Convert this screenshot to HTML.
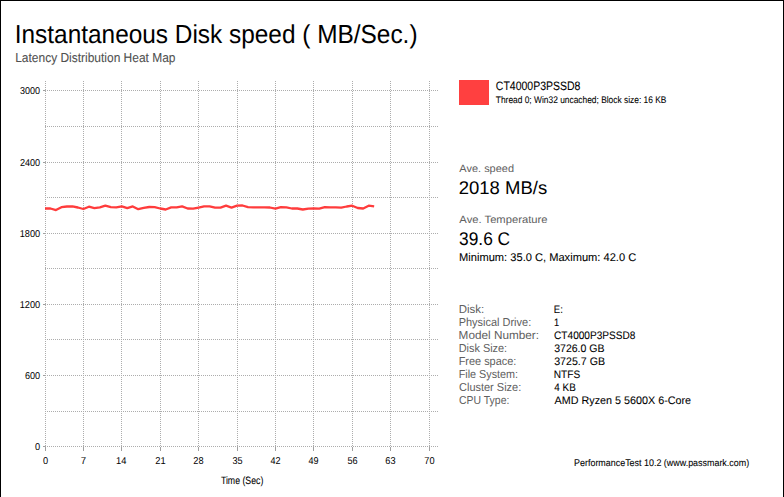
<!DOCTYPE html>
<html><head><meta charset="utf-8"><title>Disk speed</title>
<style>html,body{margin:0;padding:0;background:#fff;width:784px;height:497px;overflow:hidden}</style>
</head><body><svg width="784" height="497" viewBox="0 0 784 497" style="display:block;font-family:'Liberation Sans', sans-serif">
<rect x="0" y="0" width="784" height="497" fill="#fff"/>
<g shape-rendering="crispEdges"><path fill="#adadad" d="M45 81h1v1h-1zM45 83h1v1h-1zM45 85h1v1h-1zM45 87h1v1h-1zM45 89h1v1h-1zM45 91h1v1h-1zM45 93h1v1h-1zM45 95h1v1h-1zM45 97h1v1h-1zM45 99h1v1h-1zM45 101h1v1h-1zM45 103h1v1h-1zM45 105h1v1h-1zM45 107h1v1h-1zM45 109h1v1h-1zM45 111h1v1h-1zM45 113h1v1h-1zM45 115h1v1h-1zM45 117h1v1h-1zM45 119h1v1h-1zM45 121h1v1h-1zM45 123h1v1h-1zM45 125h1v1h-1zM45 127h1v1h-1zM45 129h1v1h-1zM45 131h1v1h-1zM45 133h1v1h-1zM45 135h1v1h-1zM45 137h1v1h-1zM45 139h1v1h-1zM45 141h1v1h-1zM45 143h1v1h-1zM45 145h1v1h-1zM45 147h1v1h-1zM45 149h1v1h-1zM45 151h1v1h-1zM45 153h1v1h-1zM45 155h1v1h-1zM45 157h1v1h-1zM45 159h1v1h-1zM45 161h1v1h-1zM45 163h1v1h-1zM45 165h1v1h-1zM45 167h1v1h-1zM45 169h1v1h-1zM45 171h1v1h-1zM45 173h1v1h-1zM45 175h1v1h-1zM45 177h1v1h-1zM45 179h1v1h-1zM45 181h1v1h-1zM45 183h1v1h-1zM45 185h1v1h-1zM45 187h1v1h-1zM45 189h1v1h-1zM45 191h1v1h-1zM45 193h1v1h-1zM45 195h1v1h-1zM45 197h1v1h-1zM45 199h1v1h-1zM45 201h1v1h-1zM45 203h1v1h-1zM45 205h1v1h-1zM45 207h1v1h-1zM45 209h1v1h-1zM45 211h1v1h-1zM45 213h1v1h-1zM45 215h1v1h-1zM45 217h1v1h-1zM45 219h1v1h-1zM45 221h1v1h-1zM45 223h1v1h-1zM45 225h1v1h-1zM45 227h1v1h-1zM45 229h1v1h-1zM45 231h1v1h-1zM45 233h1v1h-1zM45 235h1v1h-1zM45 237h1v1h-1zM45 239h1v1h-1zM45 241h1v1h-1zM45 243h1v1h-1zM45 245h1v1h-1zM45 247h1v1h-1zM45 249h1v1h-1zM45 251h1v1h-1zM45 253h1v1h-1zM45 255h1v1h-1zM45 257h1v1h-1zM45 259h1v1h-1zM45 261h1v1h-1zM45 263h1v1h-1zM45 265h1v1h-1zM45 267h1v1h-1zM45 269h1v1h-1zM45 271h1v1h-1zM45 273h1v1h-1zM45 275h1v1h-1zM45 277h1v1h-1zM45 279h1v1h-1zM45 281h1v1h-1zM45 283h1v1h-1zM45 285h1v1h-1zM45 287h1v1h-1zM45 289h1v1h-1zM45 291h1v1h-1zM45 293h1v1h-1zM45 295h1v1h-1zM45 297h1v1h-1zM45 299h1v1h-1zM45 301h1v1h-1zM45 303h1v1h-1zM45 305h1v1h-1zM45 307h1v1h-1zM45 309h1v1h-1zM45 311h1v1h-1zM45 313h1v1h-1zM45 315h1v1h-1zM45 317h1v1h-1zM45 319h1v1h-1zM45 321h1v1h-1zM45 323h1v1h-1zM45 325h1v1h-1zM45 327h1v1h-1zM45 329h1v1h-1zM45 331h1v1h-1zM45 333h1v1h-1zM45 335h1v1h-1zM45 337h1v1h-1zM45 339h1v1h-1zM45 341h1v1h-1zM45 343h1v1h-1zM45 345h1v1h-1zM45 347h1v1h-1zM45 349h1v1h-1zM45 351h1v1h-1zM45 353h1v1h-1zM45 355h1v1h-1zM45 357h1v1h-1zM45 359h1v1h-1zM45 361h1v1h-1zM45 363h1v1h-1zM45 365h1v1h-1zM45 367h1v1h-1zM45 369h1v1h-1zM45 371h1v1h-1zM45 373h1v1h-1zM45 375h1v1h-1zM45 377h1v1h-1zM45 379h1v1h-1zM45 381h1v1h-1zM45 383h1v1h-1zM45 385h1v1h-1zM45 387h1v1h-1zM45 389h1v1h-1zM45 391h1v1h-1zM45 393h1v1h-1zM45 395h1v1h-1zM45 397h1v1h-1zM45 399h1v1h-1zM45 401h1v1h-1zM45 403h1v1h-1zM45 405h1v1h-1zM45 407h1v1h-1zM45 409h1v1h-1zM45 411h1v1h-1zM45 413h1v1h-1zM45 415h1v1h-1zM45 417h1v1h-1zM45 419h1v1h-1zM45 421h1v1h-1zM45 423h1v1h-1zM45 425h1v1h-1zM45 427h1v1h-1zM45 429h1v1h-1zM45 431h1v1h-1zM45 433h1v1h-1zM45 435h1v1h-1zM45 437h1v1h-1zM45 439h1v1h-1zM45 441h1v1h-1zM45 443h1v1h-1zM45 445h1v1h-1zM83 81h1v1h-1zM83 83h1v1h-1zM83 85h1v1h-1zM83 87h1v1h-1zM83 89h1v1h-1zM83 91h1v1h-1zM83 93h1v1h-1zM83 95h1v1h-1zM83 97h1v1h-1zM83 99h1v1h-1zM83 101h1v1h-1zM83 103h1v1h-1zM83 105h1v1h-1zM83 107h1v1h-1zM83 109h1v1h-1zM83 111h1v1h-1zM83 113h1v1h-1zM83 115h1v1h-1zM83 117h1v1h-1zM83 119h1v1h-1zM83 121h1v1h-1zM83 123h1v1h-1zM83 125h1v1h-1zM83 127h1v1h-1zM83 129h1v1h-1zM83 131h1v1h-1zM83 133h1v1h-1zM83 135h1v1h-1zM83 137h1v1h-1zM83 139h1v1h-1zM83 141h1v1h-1zM83 143h1v1h-1zM83 145h1v1h-1zM83 147h1v1h-1zM83 149h1v1h-1zM83 151h1v1h-1zM83 153h1v1h-1zM83 155h1v1h-1zM83 157h1v1h-1zM83 159h1v1h-1zM83 161h1v1h-1zM83 163h1v1h-1zM83 165h1v1h-1zM83 167h1v1h-1zM83 169h1v1h-1zM83 171h1v1h-1zM83 173h1v1h-1zM83 175h1v1h-1zM83 177h1v1h-1zM83 179h1v1h-1zM83 181h1v1h-1zM83 183h1v1h-1zM83 185h1v1h-1zM83 187h1v1h-1zM83 189h1v1h-1zM83 191h1v1h-1zM83 193h1v1h-1zM83 195h1v1h-1zM83 197h1v1h-1zM83 199h1v1h-1zM83 201h1v1h-1zM83 203h1v1h-1zM83 205h1v1h-1zM83 207h1v1h-1zM83 209h1v1h-1zM83 211h1v1h-1zM83 213h1v1h-1zM83 215h1v1h-1zM83 217h1v1h-1zM83 219h1v1h-1zM83 221h1v1h-1zM83 223h1v1h-1zM83 225h1v1h-1zM83 227h1v1h-1zM83 229h1v1h-1zM83 231h1v1h-1zM83 233h1v1h-1zM83 235h1v1h-1zM83 237h1v1h-1zM83 239h1v1h-1zM83 241h1v1h-1zM83 243h1v1h-1zM83 245h1v1h-1zM83 247h1v1h-1zM83 249h1v1h-1zM83 251h1v1h-1zM83 253h1v1h-1zM83 255h1v1h-1zM83 257h1v1h-1zM83 259h1v1h-1zM83 261h1v1h-1zM83 263h1v1h-1zM83 265h1v1h-1zM83 267h1v1h-1zM83 269h1v1h-1zM83 271h1v1h-1zM83 273h1v1h-1zM83 275h1v1h-1zM83 277h1v1h-1zM83 279h1v1h-1zM83 281h1v1h-1zM83 283h1v1h-1zM83 285h1v1h-1zM83 287h1v1h-1zM83 289h1v1h-1zM83 291h1v1h-1zM83 293h1v1h-1zM83 295h1v1h-1zM83 297h1v1h-1zM83 299h1v1h-1zM83 301h1v1h-1zM83 303h1v1h-1zM83 305h1v1h-1zM83 307h1v1h-1zM83 309h1v1h-1zM83 311h1v1h-1zM83 313h1v1h-1zM83 315h1v1h-1zM83 317h1v1h-1zM83 319h1v1h-1zM83 321h1v1h-1zM83 323h1v1h-1zM83 325h1v1h-1zM83 327h1v1h-1zM83 329h1v1h-1zM83 331h1v1h-1zM83 333h1v1h-1zM83 335h1v1h-1zM83 337h1v1h-1zM83 339h1v1h-1zM83 341h1v1h-1zM83 343h1v1h-1zM83 345h1v1h-1zM83 347h1v1h-1zM83 349h1v1h-1zM83 351h1v1h-1zM83 353h1v1h-1zM83 355h1v1h-1zM83 357h1v1h-1zM83 359h1v1h-1zM83 361h1v1h-1zM83 363h1v1h-1zM83 365h1v1h-1zM83 367h1v1h-1zM83 369h1v1h-1zM83 371h1v1h-1zM83 373h1v1h-1zM83 375h1v1h-1zM83 377h1v1h-1zM83 379h1v1h-1zM83 381h1v1h-1zM83 383h1v1h-1zM83 385h1v1h-1zM83 387h1v1h-1zM83 389h1v1h-1zM83 391h1v1h-1zM83 393h1v1h-1zM83 395h1v1h-1zM83 397h1v1h-1zM83 399h1v1h-1zM83 401h1v1h-1zM83 403h1v1h-1zM83 405h1v1h-1zM83 407h1v1h-1zM83 409h1v1h-1zM83 411h1v1h-1zM83 413h1v1h-1zM83 415h1v1h-1zM83 417h1v1h-1zM83 419h1v1h-1zM83 421h1v1h-1zM83 423h1v1h-1zM83 425h1v1h-1zM83 427h1v1h-1zM83 429h1v1h-1zM83 431h1v1h-1zM83 433h1v1h-1zM83 435h1v1h-1zM83 437h1v1h-1zM83 439h1v1h-1zM83 441h1v1h-1zM83 443h1v1h-1zM83 445h1v1h-1zM121 81h1v1h-1zM121 83h1v1h-1zM121 85h1v1h-1zM121 87h1v1h-1zM121 89h1v1h-1zM121 91h1v1h-1zM121 93h1v1h-1zM121 95h1v1h-1zM121 97h1v1h-1zM121 99h1v1h-1zM121 101h1v1h-1zM121 103h1v1h-1zM121 105h1v1h-1zM121 107h1v1h-1zM121 109h1v1h-1zM121 111h1v1h-1zM121 113h1v1h-1zM121 115h1v1h-1zM121 117h1v1h-1zM121 119h1v1h-1zM121 121h1v1h-1zM121 123h1v1h-1zM121 125h1v1h-1zM121 127h1v1h-1zM121 129h1v1h-1zM121 131h1v1h-1zM121 133h1v1h-1zM121 135h1v1h-1zM121 137h1v1h-1zM121 139h1v1h-1zM121 141h1v1h-1zM121 143h1v1h-1zM121 145h1v1h-1zM121 147h1v1h-1zM121 149h1v1h-1zM121 151h1v1h-1zM121 153h1v1h-1zM121 155h1v1h-1zM121 157h1v1h-1zM121 159h1v1h-1zM121 161h1v1h-1zM121 163h1v1h-1zM121 165h1v1h-1zM121 167h1v1h-1zM121 169h1v1h-1zM121 171h1v1h-1zM121 173h1v1h-1zM121 175h1v1h-1zM121 177h1v1h-1zM121 179h1v1h-1zM121 181h1v1h-1zM121 183h1v1h-1zM121 185h1v1h-1zM121 187h1v1h-1zM121 189h1v1h-1zM121 191h1v1h-1zM121 193h1v1h-1zM121 195h1v1h-1zM121 197h1v1h-1zM121 199h1v1h-1zM121 201h1v1h-1zM121 203h1v1h-1zM121 205h1v1h-1zM121 207h1v1h-1zM121 209h1v1h-1zM121 211h1v1h-1zM121 213h1v1h-1zM121 215h1v1h-1zM121 217h1v1h-1zM121 219h1v1h-1zM121 221h1v1h-1zM121 223h1v1h-1zM121 225h1v1h-1zM121 227h1v1h-1zM121 229h1v1h-1zM121 231h1v1h-1zM121 233h1v1h-1zM121 235h1v1h-1zM121 237h1v1h-1zM121 239h1v1h-1zM121 241h1v1h-1zM121 243h1v1h-1zM121 245h1v1h-1zM121 247h1v1h-1zM121 249h1v1h-1zM121 251h1v1h-1zM121 253h1v1h-1zM121 255h1v1h-1zM121 257h1v1h-1zM121 259h1v1h-1zM121 261h1v1h-1zM121 263h1v1h-1zM121 265h1v1h-1zM121 267h1v1h-1zM121 269h1v1h-1zM121 271h1v1h-1zM121 273h1v1h-1zM121 275h1v1h-1zM121 277h1v1h-1zM121 279h1v1h-1zM121 281h1v1h-1zM121 283h1v1h-1zM121 285h1v1h-1zM121 287h1v1h-1zM121 289h1v1h-1zM121 291h1v1h-1zM121 293h1v1h-1zM121 295h1v1h-1zM121 297h1v1h-1zM121 299h1v1h-1zM121 301h1v1h-1zM121 303h1v1h-1zM121 305h1v1h-1zM121 307h1v1h-1zM121 309h1v1h-1zM121 311h1v1h-1zM121 313h1v1h-1zM121 315h1v1h-1zM121 317h1v1h-1zM121 319h1v1h-1zM121 321h1v1h-1zM121 323h1v1h-1zM121 325h1v1h-1zM121 327h1v1h-1zM121 329h1v1h-1zM121 331h1v1h-1zM121 333h1v1h-1zM121 335h1v1h-1zM121 337h1v1h-1zM121 339h1v1h-1zM121 341h1v1h-1zM121 343h1v1h-1zM121 345h1v1h-1zM121 347h1v1h-1zM121 349h1v1h-1zM121 351h1v1h-1zM121 353h1v1h-1zM121 355h1v1h-1zM121 357h1v1h-1zM121 359h1v1h-1zM121 361h1v1h-1zM121 363h1v1h-1zM121 365h1v1h-1zM121 367h1v1h-1zM121 369h1v1h-1zM121 371h1v1h-1zM121 373h1v1h-1zM121 375h1v1h-1zM121 377h1v1h-1zM121 379h1v1h-1zM121 381h1v1h-1zM121 383h1v1h-1zM121 385h1v1h-1zM121 387h1v1h-1zM121 389h1v1h-1zM121 391h1v1h-1zM121 393h1v1h-1zM121 395h1v1h-1zM121 397h1v1h-1zM121 399h1v1h-1zM121 401h1v1h-1zM121 403h1v1h-1zM121 405h1v1h-1zM121 407h1v1h-1zM121 409h1v1h-1zM121 411h1v1h-1zM121 413h1v1h-1zM121 415h1v1h-1zM121 417h1v1h-1zM121 419h1v1h-1zM121 421h1v1h-1zM121 423h1v1h-1zM121 425h1v1h-1zM121 427h1v1h-1zM121 429h1v1h-1zM121 431h1v1h-1zM121 433h1v1h-1zM121 435h1v1h-1zM121 437h1v1h-1zM121 439h1v1h-1zM121 441h1v1h-1zM121 443h1v1h-1zM121 445h1v1h-1zM160 81h1v1h-1zM160 83h1v1h-1zM160 85h1v1h-1zM160 87h1v1h-1zM160 89h1v1h-1zM160 91h1v1h-1zM160 93h1v1h-1zM160 95h1v1h-1zM160 97h1v1h-1zM160 99h1v1h-1zM160 101h1v1h-1zM160 103h1v1h-1zM160 105h1v1h-1zM160 107h1v1h-1zM160 109h1v1h-1zM160 111h1v1h-1zM160 113h1v1h-1zM160 115h1v1h-1zM160 117h1v1h-1zM160 119h1v1h-1zM160 121h1v1h-1zM160 123h1v1h-1zM160 125h1v1h-1zM160 127h1v1h-1zM160 129h1v1h-1zM160 131h1v1h-1zM160 133h1v1h-1zM160 135h1v1h-1zM160 137h1v1h-1zM160 139h1v1h-1zM160 141h1v1h-1zM160 143h1v1h-1zM160 145h1v1h-1zM160 147h1v1h-1zM160 149h1v1h-1zM160 151h1v1h-1zM160 153h1v1h-1zM160 155h1v1h-1zM160 157h1v1h-1zM160 159h1v1h-1zM160 161h1v1h-1zM160 163h1v1h-1zM160 165h1v1h-1zM160 167h1v1h-1zM160 169h1v1h-1zM160 171h1v1h-1zM160 173h1v1h-1zM160 175h1v1h-1zM160 177h1v1h-1zM160 179h1v1h-1zM160 181h1v1h-1zM160 183h1v1h-1zM160 185h1v1h-1zM160 187h1v1h-1zM160 189h1v1h-1zM160 191h1v1h-1zM160 193h1v1h-1zM160 195h1v1h-1zM160 197h1v1h-1zM160 199h1v1h-1zM160 201h1v1h-1zM160 203h1v1h-1zM160 205h1v1h-1zM160 207h1v1h-1zM160 209h1v1h-1zM160 211h1v1h-1zM160 213h1v1h-1zM160 215h1v1h-1zM160 217h1v1h-1zM160 219h1v1h-1zM160 221h1v1h-1zM160 223h1v1h-1zM160 225h1v1h-1zM160 227h1v1h-1zM160 229h1v1h-1zM160 231h1v1h-1zM160 233h1v1h-1zM160 235h1v1h-1zM160 237h1v1h-1zM160 239h1v1h-1zM160 241h1v1h-1zM160 243h1v1h-1zM160 245h1v1h-1zM160 247h1v1h-1zM160 249h1v1h-1zM160 251h1v1h-1zM160 253h1v1h-1zM160 255h1v1h-1zM160 257h1v1h-1zM160 259h1v1h-1zM160 261h1v1h-1zM160 263h1v1h-1zM160 265h1v1h-1zM160 267h1v1h-1zM160 269h1v1h-1zM160 271h1v1h-1zM160 273h1v1h-1zM160 275h1v1h-1zM160 277h1v1h-1zM160 279h1v1h-1zM160 281h1v1h-1zM160 283h1v1h-1zM160 285h1v1h-1zM160 287h1v1h-1zM160 289h1v1h-1zM160 291h1v1h-1zM160 293h1v1h-1zM160 295h1v1h-1zM160 297h1v1h-1zM160 299h1v1h-1zM160 301h1v1h-1zM160 303h1v1h-1zM160 305h1v1h-1zM160 307h1v1h-1zM160 309h1v1h-1zM160 311h1v1h-1zM160 313h1v1h-1zM160 315h1v1h-1zM160 317h1v1h-1zM160 319h1v1h-1zM160 321h1v1h-1zM160 323h1v1h-1zM160 325h1v1h-1zM160 327h1v1h-1zM160 329h1v1h-1zM160 331h1v1h-1zM160 333h1v1h-1zM160 335h1v1h-1zM160 337h1v1h-1zM160 339h1v1h-1zM160 341h1v1h-1zM160 343h1v1h-1zM160 345h1v1h-1zM160 347h1v1h-1zM160 349h1v1h-1zM160 351h1v1h-1zM160 353h1v1h-1zM160 355h1v1h-1zM160 357h1v1h-1zM160 359h1v1h-1zM160 361h1v1h-1zM160 363h1v1h-1zM160 365h1v1h-1zM160 367h1v1h-1zM160 369h1v1h-1zM160 371h1v1h-1zM160 373h1v1h-1zM160 375h1v1h-1zM160 377h1v1h-1zM160 379h1v1h-1zM160 381h1v1h-1zM160 383h1v1h-1zM160 385h1v1h-1zM160 387h1v1h-1zM160 389h1v1h-1zM160 391h1v1h-1zM160 393h1v1h-1zM160 395h1v1h-1zM160 397h1v1h-1zM160 399h1v1h-1zM160 401h1v1h-1zM160 403h1v1h-1zM160 405h1v1h-1zM160 407h1v1h-1zM160 409h1v1h-1zM160 411h1v1h-1zM160 413h1v1h-1zM160 415h1v1h-1zM160 417h1v1h-1zM160 419h1v1h-1zM160 421h1v1h-1zM160 423h1v1h-1zM160 425h1v1h-1zM160 427h1v1h-1zM160 429h1v1h-1zM160 431h1v1h-1zM160 433h1v1h-1zM160 435h1v1h-1zM160 437h1v1h-1zM160 439h1v1h-1zM160 441h1v1h-1zM160 443h1v1h-1zM160 445h1v1h-1zM198 81h1v1h-1zM198 83h1v1h-1zM198 85h1v1h-1zM198 87h1v1h-1zM198 89h1v1h-1zM198 91h1v1h-1zM198 93h1v1h-1zM198 95h1v1h-1zM198 97h1v1h-1zM198 99h1v1h-1zM198 101h1v1h-1zM198 103h1v1h-1zM198 105h1v1h-1zM198 107h1v1h-1zM198 109h1v1h-1zM198 111h1v1h-1zM198 113h1v1h-1zM198 115h1v1h-1zM198 117h1v1h-1zM198 119h1v1h-1zM198 121h1v1h-1zM198 123h1v1h-1zM198 125h1v1h-1zM198 127h1v1h-1zM198 129h1v1h-1zM198 131h1v1h-1zM198 133h1v1h-1zM198 135h1v1h-1zM198 137h1v1h-1zM198 139h1v1h-1zM198 141h1v1h-1zM198 143h1v1h-1zM198 145h1v1h-1zM198 147h1v1h-1zM198 149h1v1h-1zM198 151h1v1h-1zM198 153h1v1h-1zM198 155h1v1h-1zM198 157h1v1h-1zM198 159h1v1h-1zM198 161h1v1h-1zM198 163h1v1h-1zM198 165h1v1h-1zM198 167h1v1h-1zM198 169h1v1h-1zM198 171h1v1h-1zM198 173h1v1h-1zM198 175h1v1h-1zM198 177h1v1h-1zM198 179h1v1h-1zM198 181h1v1h-1zM198 183h1v1h-1zM198 185h1v1h-1zM198 187h1v1h-1zM198 189h1v1h-1zM198 191h1v1h-1zM198 193h1v1h-1zM198 195h1v1h-1zM198 197h1v1h-1zM198 199h1v1h-1zM198 201h1v1h-1zM198 203h1v1h-1zM198 205h1v1h-1zM198 207h1v1h-1zM198 209h1v1h-1zM198 211h1v1h-1zM198 213h1v1h-1zM198 215h1v1h-1zM198 217h1v1h-1zM198 219h1v1h-1zM198 221h1v1h-1zM198 223h1v1h-1zM198 225h1v1h-1zM198 227h1v1h-1zM198 229h1v1h-1zM198 231h1v1h-1zM198 233h1v1h-1zM198 235h1v1h-1zM198 237h1v1h-1zM198 239h1v1h-1zM198 241h1v1h-1zM198 243h1v1h-1zM198 245h1v1h-1zM198 247h1v1h-1zM198 249h1v1h-1zM198 251h1v1h-1zM198 253h1v1h-1zM198 255h1v1h-1zM198 257h1v1h-1zM198 259h1v1h-1zM198 261h1v1h-1zM198 263h1v1h-1zM198 265h1v1h-1zM198 267h1v1h-1zM198 269h1v1h-1zM198 271h1v1h-1zM198 273h1v1h-1zM198 275h1v1h-1zM198 277h1v1h-1zM198 279h1v1h-1zM198 281h1v1h-1zM198 283h1v1h-1zM198 285h1v1h-1zM198 287h1v1h-1zM198 289h1v1h-1zM198 291h1v1h-1zM198 293h1v1h-1zM198 295h1v1h-1zM198 297h1v1h-1zM198 299h1v1h-1zM198 301h1v1h-1zM198 303h1v1h-1zM198 305h1v1h-1zM198 307h1v1h-1zM198 309h1v1h-1zM198 311h1v1h-1zM198 313h1v1h-1zM198 315h1v1h-1zM198 317h1v1h-1zM198 319h1v1h-1zM198 321h1v1h-1zM198 323h1v1h-1zM198 325h1v1h-1zM198 327h1v1h-1zM198 329h1v1h-1zM198 331h1v1h-1zM198 333h1v1h-1zM198 335h1v1h-1zM198 337h1v1h-1zM198 339h1v1h-1zM198 341h1v1h-1zM198 343h1v1h-1zM198 345h1v1h-1zM198 347h1v1h-1zM198 349h1v1h-1zM198 351h1v1h-1zM198 353h1v1h-1zM198 355h1v1h-1zM198 357h1v1h-1zM198 359h1v1h-1zM198 361h1v1h-1zM198 363h1v1h-1zM198 365h1v1h-1zM198 367h1v1h-1zM198 369h1v1h-1zM198 371h1v1h-1zM198 373h1v1h-1zM198 375h1v1h-1zM198 377h1v1h-1zM198 379h1v1h-1zM198 381h1v1h-1zM198 383h1v1h-1zM198 385h1v1h-1zM198 387h1v1h-1zM198 389h1v1h-1zM198 391h1v1h-1zM198 393h1v1h-1zM198 395h1v1h-1zM198 397h1v1h-1zM198 399h1v1h-1zM198 401h1v1h-1zM198 403h1v1h-1zM198 405h1v1h-1zM198 407h1v1h-1zM198 409h1v1h-1zM198 411h1v1h-1zM198 413h1v1h-1zM198 415h1v1h-1zM198 417h1v1h-1zM198 419h1v1h-1zM198 421h1v1h-1zM198 423h1v1h-1zM198 425h1v1h-1zM198 427h1v1h-1zM198 429h1v1h-1zM198 431h1v1h-1zM198 433h1v1h-1zM198 435h1v1h-1zM198 437h1v1h-1zM198 439h1v1h-1zM198 441h1v1h-1zM198 443h1v1h-1zM198 445h1v1h-1zM237 81h1v1h-1zM237 83h1v1h-1zM237 85h1v1h-1zM237 87h1v1h-1zM237 89h1v1h-1zM237 91h1v1h-1zM237 93h1v1h-1zM237 95h1v1h-1zM237 97h1v1h-1zM237 99h1v1h-1zM237 101h1v1h-1zM237 103h1v1h-1zM237 105h1v1h-1zM237 107h1v1h-1zM237 109h1v1h-1zM237 111h1v1h-1zM237 113h1v1h-1zM237 115h1v1h-1zM237 117h1v1h-1zM237 119h1v1h-1zM237 121h1v1h-1zM237 123h1v1h-1zM237 125h1v1h-1zM237 127h1v1h-1zM237 129h1v1h-1zM237 131h1v1h-1zM237 133h1v1h-1zM237 135h1v1h-1zM237 137h1v1h-1zM237 139h1v1h-1zM237 141h1v1h-1zM237 143h1v1h-1zM237 145h1v1h-1zM237 147h1v1h-1zM237 149h1v1h-1zM237 151h1v1h-1zM237 153h1v1h-1zM237 155h1v1h-1zM237 157h1v1h-1zM237 159h1v1h-1zM237 161h1v1h-1zM237 163h1v1h-1zM237 165h1v1h-1zM237 167h1v1h-1zM237 169h1v1h-1zM237 171h1v1h-1zM237 173h1v1h-1zM237 175h1v1h-1zM237 177h1v1h-1zM237 179h1v1h-1zM237 181h1v1h-1zM237 183h1v1h-1zM237 185h1v1h-1zM237 187h1v1h-1zM237 189h1v1h-1zM237 191h1v1h-1zM237 193h1v1h-1zM237 195h1v1h-1zM237 197h1v1h-1zM237 199h1v1h-1zM237 201h1v1h-1zM237 203h1v1h-1zM237 205h1v1h-1zM237 207h1v1h-1zM237 209h1v1h-1zM237 211h1v1h-1zM237 213h1v1h-1zM237 215h1v1h-1zM237 217h1v1h-1zM237 219h1v1h-1zM237 221h1v1h-1zM237 223h1v1h-1zM237 225h1v1h-1zM237 227h1v1h-1zM237 229h1v1h-1zM237 231h1v1h-1zM237 233h1v1h-1zM237 235h1v1h-1zM237 237h1v1h-1zM237 239h1v1h-1zM237 241h1v1h-1zM237 243h1v1h-1zM237 245h1v1h-1zM237 247h1v1h-1zM237 249h1v1h-1zM237 251h1v1h-1zM237 253h1v1h-1zM237 255h1v1h-1zM237 257h1v1h-1zM237 259h1v1h-1zM237 261h1v1h-1zM237 263h1v1h-1zM237 265h1v1h-1zM237 267h1v1h-1zM237 269h1v1h-1zM237 271h1v1h-1zM237 273h1v1h-1zM237 275h1v1h-1zM237 277h1v1h-1zM237 279h1v1h-1zM237 281h1v1h-1zM237 283h1v1h-1zM237 285h1v1h-1zM237 287h1v1h-1zM237 289h1v1h-1zM237 291h1v1h-1zM237 293h1v1h-1zM237 295h1v1h-1zM237 297h1v1h-1zM237 299h1v1h-1zM237 301h1v1h-1zM237 303h1v1h-1zM237 305h1v1h-1zM237 307h1v1h-1zM237 309h1v1h-1zM237 311h1v1h-1zM237 313h1v1h-1zM237 315h1v1h-1zM237 317h1v1h-1zM237 319h1v1h-1zM237 321h1v1h-1zM237 323h1v1h-1zM237 325h1v1h-1zM237 327h1v1h-1zM237 329h1v1h-1zM237 331h1v1h-1zM237 333h1v1h-1zM237 335h1v1h-1zM237 337h1v1h-1zM237 339h1v1h-1zM237 341h1v1h-1zM237 343h1v1h-1zM237 345h1v1h-1zM237 347h1v1h-1zM237 349h1v1h-1zM237 351h1v1h-1zM237 353h1v1h-1zM237 355h1v1h-1zM237 357h1v1h-1zM237 359h1v1h-1zM237 361h1v1h-1zM237 363h1v1h-1zM237 365h1v1h-1zM237 367h1v1h-1zM237 369h1v1h-1zM237 371h1v1h-1zM237 373h1v1h-1zM237 375h1v1h-1zM237 377h1v1h-1zM237 379h1v1h-1zM237 381h1v1h-1zM237 383h1v1h-1zM237 385h1v1h-1zM237 387h1v1h-1zM237 389h1v1h-1zM237 391h1v1h-1zM237 393h1v1h-1zM237 395h1v1h-1zM237 397h1v1h-1zM237 399h1v1h-1zM237 401h1v1h-1zM237 403h1v1h-1zM237 405h1v1h-1zM237 407h1v1h-1zM237 409h1v1h-1zM237 411h1v1h-1zM237 413h1v1h-1zM237 415h1v1h-1zM237 417h1v1h-1zM237 419h1v1h-1zM237 421h1v1h-1zM237 423h1v1h-1zM237 425h1v1h-1zM237 427h1v1h-1zM237 429h1v1h-1zM237 431h1v1h-1zM237 433h1v1h-1zM237 435h1v1h-1zM237 437h1v1h-1zM237 439h1v1h-1zM237 441h1v1h-1zM237 443h1v1h-1zM237 445h1v1h-1zM275 81h1v1h-1zM275 83h1v1h-1zM275 85h1v1h-1zM275 87h1v1h-1zM275 89h1v1h-1zM275 91h1v1h-1zM275 93h1v1h-1zM275 95h1v1h-1zM275 97h1v1h-1zM275 99h1v1h-1zM275 101h1v1h-1zM275 103h1v1h-1zM275 105h1v1h-1zM275 107h1v1h-1zM275 109h1v1h-1zM275 111h1v1h-1zM275 113h1v1h-1zM275 115h1v1h-1zM275 117h1v1h-1zM275 119h1v1h-1zM275 121h1v1h-1zM275 123h1v1h-1zM275 125h1v1h-1zM275 127h1v1h-1zM275 129h1v1h-1zM275 131h1v1h-1zM275 133h1v1h-1zM275 135h1v1h-1zM275 137h1v1h-1zM275 139h1v1h-1zM275 141h1v1h-1zM275 143h1v1h-1zM275 145h1v1h-1zM275 147h1v1h-1zM275 149h1v1h-1zM275 151h1v1h-1zM275 153h1v1h-1zM275 155h1v1h-1zM275 157h1v1h-1zM275 159h1v1h-1zM275 161h1v1h-1zM275 163h1v1h-1zM275 165h1v1h-1zM275 167h1v1h-1zM275 169h1v1h-1zM275 171h1v1h-1zM275 173h1v1h-1zM275 175h1v1h-1zM275 177h1v1h-1zM275 179h1v1h-1zM275 181h1v1h-1zM275 183h1v1h-1zM275 185h1v1h-1zM275 187h1v1h-1zM275 189h1v1h-1zM275 191h1v1h-1zM275 193h1v1h-1zM275 195h1v1h-1zM275 197h1v1h-1zM275 199h1v1h-1zM275 201h1v1h-1zM275 203h1v1h-1zM275 205h1v1h-1zM275 207h1v1h-1zM275 209h1v1h-1zM275 211h1v1h-1zM275 213h1v1h-1zM275 215h1v1h-1zM275 217h1v1h-1zM275 219h1v1h-1zM275 221h1v1h-1zM275 223h1v1h-1zM275 225h1v1h-1zM275 227h1v1h-1zM275 229h1v1h-1zM275 231h1v1h-1zM275 233h1v1h-1zM275 235h1v1h-1zM275 237h1v1h-1zM275 239h1v1h-1zM275 241h1v1h-1zM275 243h1v1h-1zM275 245h1v1h-1zM275 247h1v1h-1zM275 249h1v1h-1zM275 251h1v1h-1zM275 253h1v1h-1zM275 255h1v1h-1zM275 257h1v1h-1zM275 259h1v1h-1zM275 261h1v1h-1zM275 263h1v1h-1zM275 265h1v1h-1zM275 267h1v1h-1zM275 269h1v1h-1zM275 271h1v1h-1zM275 273h1v1h-1zM275 275h1v1h-1zM275 277h1v1h-1zM275 279h1v1h-1zM275 281h1v1h-1zM275 283h1v1h-1zM275 285h1v1h-1zM275 287h1v1h-1zM275 289h1v1h-1zM275 291h1v1h-1zM275 293h1v1h-1zM275 295h1v1h-1zM275 297h1v1h-1zM275 299h1v1h-1zM275 301h1v1h-1zM275 303h1v1h-1zM275 305h1v1h-1zM275 307h1v1h-1zM275 309h1v1h-1zM275 311h1v1h-1zM275 313h1v1h-1zM275 315h1v1h-1zM275 317h1v1h-1zM275 319h1v1h-1zM275 321h1v1h-1zM275 323h1v1h-1zM275 325h1v1h-1zM275 327h1v1h-1zM275 329h1v1h-1zM275 331h1v1h-1zM275 333h1v1h-1zM275 335h1v1h-1zM275 337h1v1h-1zM275 339h1v1h-1zM275 341h1v1h-1zM275 343h1v1h-1zM275 345h1v1h-1zM275 347h1v1h-1zM275 349h1v1h-1zM275 351h1v1h-1zM275 353h1v1h-1zM275 355h1v1h-1zM275 357h1v1h-1zM275 359h1v1h-1zM275 361h1v1h-1zM275 363h1v1h-1zM275 365h1v1h-1zM275 367h1v1h-1zM275 369h1v1h-1zM275 371h1v1h-1zM275 373h1v1h-1zM275 375h1v1h-1zM275 377h1v1h-1zM275 379h1v1h-1zM275 381h1v1h-1zM275 383h1v1h-1zM275 385h1v1h-1zM275 387h1v1h-1zM275 389h1v1h-1zM275 391h1v1h-1zM275 393h1v1h-1zM275 395h1v1h-1zM275 397h1v1h-1zM275 399h1v1h-1zM275 401h1v1h-1zM275 403h1v1h-1zM275 405h1v1h-1zM275 407h1v1h-1zM275 409h1v1h-1zM275 411h1v1h-1zM275 413h1v1h-1zM275 415h1v1h-1zM275 417h1v1h-1zM275 419h1v1h-1zM275 421h1v1h-1zM275 423h1v1h-1zM275 425h1v1h-1zM275 427h1v1h-1zM275 429h1v1h-1zM275 431h1v1h-1zM275 433h1v1h-1zM275 435h1v1h-1zM275 437h1v1h-1zM275 439h1v1h-1zM275 441h1v1h-1zM275 443h1v1h-1zM275 445h1v1h-1zM313 81h1v1h-1zM313 83h1v1h-1zM313 85h1v1h-1zM313 87h1v1h-1zM313 89h1v1h-1zM313 91h1v1h-1zM313 93h1v1h-1zM313 95h1v1h-1zM313 97h1v1h-1zM313 99h1v1h-1zM313 101h1v1h-1zM313 103h1v1h-1zM313 105h1v1h-1zM313 107h1v1h-1zM313 109h1v1h-1zM313 111h1v1h-1zM313 113h1v1h-1zM313 115h1v1h-1zM313 117h1v1h-1zM313 119h1v1h-1zM313 121h1v1h-1zM313 123h1v1h-1zM313 125h1v1h-1zM313 127h1v1h-1zM313 129h1v1h-1zM313 131h1v1h-1zM313 133h1v1h-1zM313 135h1v1h-1zM313 137h1v1h-1zM313 139h1v1h-1zM313 141h1v1h-1zM313 143h1v1h-1zM313 145h1v1h-1zM313 147h1v1h-1zM313 149h1v1h-1zM313 151h1v1h-1zM313 153h1v1h-1zM313 155h1v1h-1zM313 157h1v1h-1zM313 159h1v1h-1zM313 161h1v1h-1zM313 163h1v1h-1zM313 165h1v1h-1zM313 167h1v1h-1zM313 169h1v1h-1zM313 171h1v1h-1zM313 173h1v1h-1zM313 175h1v1h-1zM313 177h1v1h-1zM313 179h1v1h-1zM313 181h1v1h-1zM313 183h1v1h-1zM313 185h1v1h-1zM313 187h1v1h-1zM313 189h1v1h-1zM313 191h1v1h-1zM313 193h1v1h-1zM313 195h1v1h-1zM313 197h1v1h-1zM313 199h1v1h-1zM313 201h1v1h-1zM313 203h1v1h-1zM313 205h1v1h-1zM313 207h1v1h-1zM313 209h1v1h-1zM313 211h1v1h-1zM313 213h1v1h-1zM313 215h1v1h-1zM313 217h1v1h-1zM313 219h1v1h-1zM313 221h1v1h-1zM313 223h1v1h-1zM313 225h1v1h-1zM313 227h1v1h-1zM313 229h1v1h-1zM313 231h1v1h-1zM313 233h1v1h-1zM313 235h1v1h-1zM313 237h1v1h-1zM313 239h1v1h-1zM313 241h1v1h-1zM313 243h1v1h-1zM313 245h1v1h-1zM313 247h1v1h-1zM313 249h1v1h-1zM313 251h1v1h-1zM313 253h1v1h-1zM313 255h1v1h-1zM313 257h1v1h-1zM313 259h1v1h-1zM313 261h1v1h-1zM313 263h1v1h-1zM313 265h1v1h-1zM313 267h1v1h-1zM313 269h1v1h-1zM313 271h1v1h-1zM313 273h1v1h-1zM313 275h1v1h-1zM313 277h1v1h-1zM313 279h1v1h-1zM313 281h1v1h-1zM313 283h1v1h-1zM313 285h1v1h-1zM313 287h1v1h-1zM313 289h1v1h-1zM313 291h1v1h-1zM313 293h1v1h-1zM313 295h1v1h-1zM313 297h1v1h-1zM313 299h1v1h-1zM313 301h1v1h-1zM313 303h1v1h-1zM313 305h1v1h-1zM313 307h1v1h-1zM313 309h1v1h-1zM313 311h1v1h-1zM313 313h1v1h-1zM313 315h1v1h-1zM313 317h1v1h-1zM313 319h1v1h-1zM313 321h1v1h-1zM313 323h1v1h-1zM313 325h1v1h-1zM313 327h1v1h-1zM313 329h1v1h-1zM313 331h1v1h-1zM313 333h1v1h-1zM313 335h1v1h-1zM313 337h1v1h-1zM313 339h1v1h-1zM313 341h1v1h-1zM313 343h1v1h-1zM313 345h1v1h-1zM313 347h1v1h-1zM313 349h1v1h-1zM313 351h1v1h-1zM313 353h1v1h-1zM313 355h1v1h-1zM313 357h1v1h-1zM313 359h1v1h-1zM313 361h1v1h-1zM313 363h1v1h-1zM313 365h1v1h-1zM313 367h1v1h-1zM313 369h1v1h-1zM313 371h1v1h-1zM313 373h1v1h-1zM313 375h1v1h-1zM313 377h1v1h-1zM313 379h1v1h-1zM313 381h1v1h-1zM313 383h1v1h-1zM313 385h1v1h-1zM313 387h1v1h-1zM313 389h1v1h-1zM313 391h1v1h-1zM313 393h1v1h-1zM313 395h1v1h-1zM313 397h1v1h-1zM313 399h1v1h-1zM313 401h1v1h-1zM313 403h1v1h-1zM313 405h1v1h-1zM313 407h1v1h-1zM313 409h1v1h-1zM313 411h1v1h-1zM313 413h1v1h-1zM313 415h1v1h-1zM313 417h1v1h-1zM313 419h1v1h-1zM313 421h1v1h-1zM313 423h1v1h-1zM313 425h1v1h-1zM313 427h1v1h-1zM313 429h1v1h-1zM313 431h1v1h-1zM313 433h1v1h-1zM313 435h1v1h-1zM313 437h1v1h-1zM313 439h1v1h-1zM313 441h1v1h-1zM313 443h1v1h-1zM313 445h1v1h-1zM352 81h1v1h-1zM352 83h1v1h-1zM352 85h1v1h-1zM352 87h1v1h-1zM352 89h1v1h-1zM352 91h1v1h-1zM352 93h1v1h-1zM352 95h1v1h-1zM352 97h1v1h-1zM352 99h1v1h-1zM352 101h1v1h-1zM352 103h1v1h-1zM352 105h1v1h-1zM352 107h1v1h-1zM352 109h1v1h-1zM352 111h1v1h-1zM352 113h1v1h-1zM352 115h1v1h-1zM352 117h1v1h-1zM352 119h1v1h-1zM352 121h1v1h-1zM352 123h1v1h-1zM352 125h1v1h-1zM352 127h1v1h-1zM352 129h1v1h-1zM352 131h1v1h-1zM352 133h1v1h-1zM352 135h1v1h-1zM352 137h1v1h-1zM352 139h1v1h-1zM352 141h1v1h-1zM352 143h1v1h-1zM352 145h1v1h-1zM352 147h1v1h-1zM352 149h1v1h-1zM352 151h1v1h-1zM352 153h1v1h-1zM352 155h1v1h-1zM352 157h1v1h-1zM352 159h1v1h-1zM352 161h1v1h-1zM352 163h1v1h-1zM352 165h1v1h-1zM352 167h1v1h-1zM352 169h1v1h-1zM352 171h1v1h-1zM352 173h1v1h-1zM352 175h1v1h-1zM352 177h1v1h-1zM352 179h1v1h-1zM352 181h1v1h-1zM352 183h1v1h-1zM352 185h1v1h-1zM352 187h1v1h-1zM352 189h1v1h-1zM352 191h1v1h-1zM352 193h1v1h-1zM352 195h1v1h-1zM352 197h1v1h-1zM352 199h1v1h-1zM352 201h1v1h-1zM352 203h1v1h-1zM352 205h1v1h-1zM352 207h1v1h-1zM352 209h1v1h-1zM352 211h1v1h-1zM352 213h1v1h-1zM352 215h1v1h-1zM352 217h1v1h-1zM352 219h1v1h-1zM352 221h1v1h-1zM352 223h1v1h-1zM352 225h1v1h-1zM352 227h1v1h-1zM352 229h1v1h-1zM352 231h1v1h-1zM352 233h1v1h-1zM352 235h1v1h-1zM352 237h1v1h-1zM352 239h1v1h-1zM352 241h1v1h-1zM352 243h1v1h-1zM352 245h1v1h-1zM352 247h1v1h-1zM352 249h1v1h-1zM352 251h1v1h-1zM352 253h1v1h-1zM352 255h1v1h-1zM352 257h1v1h-1zM352 259h1v1h-1zM352 261h1v1h-1zM352 263h1v1h-1zM352 265h1v1h-1zM352 267h1v1h-1zM352 269h1v1h-1zM352 271h1v1h-1zM352 273h1v1h-1zM352 275h1v1h-1zM352 277h1v1h-1zM352 279h1v1h-1zM352 281h1v1h-1zM352 283h1v1h-1zM352 285h1v1h-1zM352 287h1v1h-1zM352 289h1v1h-1zM352 291h1v1h-1zM352 293h1v1h-1zM352 295h1v1h-1zM352 297h1v1h-1zM352 299h1v1h-1zM352 301h1v1h-1zM352 303h1v1h-1zM352 305h1v1h-1zM352 307h1v1h-1zM352 309h1v1h-1zM352 311h1v1h-1zM352 313h1v1h-1zM352 315h1v1h-1zM352 317h1v1h-1zM352 319h1v1h-1zM352 321h1v1h-1zM352 323h1v1h-1zM352 325h1v1h-1zM352 327h1v1h-1zM352 329h1v1h-1zM352 331h1v1h-1zM352 333h1v1h-1zM352 335h1v1h-1zM352 337h1v1h-1zM352 339h1v1h-1zM352 341h1v1h-1zM352 343h1v1h-1zM352 345h1v1h-1zM352 347h1v1h-1zM352 349h1v1h-1zM352 351h1v1h-1zM352 353h1v1h-1zM352 355h1v1h-1zM352 357h1v1h-1zM352 359h1v1h-1zM352 361h1v1h-1zM352 363h1v1h-1zM352 365h1v1h-1zM352 367h1v1h-1zM352 369h1v1h-1zM352 371h1v1h-1zM352 373h1v1h-1zM352 375h1v1h-1zM352 377h1v1h-1zM352 379h1v1h-1zM352 381h1v1h-1zM352 383h1v1h-1zM352 385h1v1h-1zM352 387h1v1h-1zM352 389h1v1h-1zM352 391h1v1h-1zM352 393h1v1h-1zM352 395h1v1h-1zM352 397h1v1h-1zM352 399h1v1h-1zM352 401h1v1h-1zM352 403h1v1h-1zM352 405h1v1h-1zM352 407h1v1h-1zM352 409h1v1h-1zM352 411h1v1h-1zM352 413h1v1h-1zM352 415h1v1h-1zM352 417h1v1h-1zM352 419h1v1h-1zM352 421h1v1h-1zM352 423h1v1h-1zM352 425h1v1h-1zM352 427h1v1h-1zM352 429h1v1h-1zM352 431h1v1h-1zM352 433h1v1h-1zM352 435h1v1h-1zM352 437h1v1h-1zM352 439h1v1h-1zM352 441h1v1h-1zM352 443h1v1h-1zM352 445h1v1h-1zM390 81h1v1h-1zM390 83h1v1h-1zM390 85h1v1h-1zM390 87h1v1h-1zM390 89h1v1h-1zM390 91h1v1h-1zM390 93h1v1h-1zM390 95h1v1h-1zM390 97h1v1h-1zM390 99h1v1h-1zM390 101h1v1h-1zM390 103h1v1h-1zM390 105h1v1h-1zM390 107h1v1h-1zM390 109h1v1h-1zM390 111h1v1h-1zM390 113h1v1h-1zM390 115h1v1h-1zM390 117h1v1h-1zM390 119h1v1h-1zM390 121h1v1h-1zM390 123h1v1h-1zM390 125h1v1h-1zM390 127h1v1h-1zM390 129h1v1h-1zM390 131h1v1h-1zM390 133h1v1h-1zM390 135h1v1h-1zM390 137h1v1h-1zM390 139h1v1h-1zM390 141h1v1h-1zM390 143h1v1h-1zM390 145h1v1h-1zM390 147h1v1h-1zM390 149h1v1h-1zM390 151h1v1h-1zM390 153h1v1h-1zM390 155h1v1h-1zM390 157h1v1h-1zM390 159h1v1h-1zM390 161h1v1h-1zM390 163h1v1h-1zM390 165h1v1h-1zM390 167h1v1h-1zM390 169h1v1h-1zM390 171h1v1h-1zM390 173h1v1h-1zM390 175h1v1h-1zM390 177h1v1h-1zM390 179h1v1h-1zM390 181h1v1h-1zM390 183h1v1h-1zM390 185h1v1h-1zM390 187h1v1h-1zM390 189h1v1h-1zM390 191h1v1h-1zM390 193h1v1h-1zM390 195h1v1h-1zM390 197h1v1h-1zM390 199h1v1h-1zM390 201h1v1h-1zM390 203h1v1h-1zM390 205h1v1h-1zM390 207h1v1h-1zM390 209h1v1h-1zM390 211h1v1h-1zM390 213h1v1h-1zM390 215h1v1h-1zM390 217h1v1h-1zM390 219h1v1h-1zM390 221h1v1h-1zM390 223h1v1h-1zM390 225h1v1h-1zM390 227h1v1h-1zM390 229h1v1h-1zM390 231h1v1h-1zM390 233h1v1h-1zM390 235h1v1h-1zM390 237h1v1h-1zM390 239h1v1h-1zM390 241h1v1h-1zM390 243h1v1h-1zM390 245h1v1h-1zM390 247h1v1h-1zM390 249h1v1h-1zM390 251h1v1h-1zM390 253h1v1h-1zM390 255h1v1h-1zM390 257h1v1h-1zM390 259h1v1h-1zM390 261h1v1h-1zM390 263h1v1h-1zM390 265h1v1h-1zM390 267h1v1h-1zM390 269h1v1h-1zM390 271h1v1h-1zM390 273h1v1h-1zM390 275h1v1h-1zM390 277h1v1h-1zM390 279h1v1h-1zM390 281h1v1h-1zM390 283h1v1h-1zM390 285h1v1h-1zM390 287h1v1h-1zM390 289h1v1h-1zM390 291h1v1h-1zM390 293h1v1h-1zM390 295h1v1h-1zM390 297h1v1h-1zM390 299h1v1h-1zM390 301h1v1h-1zM390 303h1v1h-1zM390 305h1v1h-1zM390 307h1v1h-1zM390 309h1v1h-1zM390 311h1v1h-1zM390 313h1v1h-1zM390 315h1v1h-1zM390 317h1v1h-1zM390 319h1v1h-1zM390 321h1v1h-1zM390 323h1v1h-1zM390 325h1v1h-1zM390 327h1v1h-1zM390 329h1v1h-1zM390 331h1v1h-1zM390 333h1v1h-1zM390 335h1v1h-1zM390 337h1v1h-1zM390 339h1v1h-1zM390 341h1v1h-1zM390 343h1v1h-1zM390 345h1v1h-1zM390 347h1v1h-1zM390 349h1v1h-1zM390 351h1v1h-1zM390 353h1v1h-1zM390 355h1v1h-1zM390 357h1v1h-1zM390 359h1v1h-1zM390 361h1v1h-1zM390 363h1v1h-1zM390 365h1v1h-1zM390 367h1v1h-1zM390 369h1v1h-1zM390 371h1v1h-1zM390 373h1v1h-1zM390 375h1v1h-1zM390 377h1v1h-1zM390 379h1v1h-1zM390 381h1v1h-1zM390 383h1v1h-1zM390 385h1v1h-1zM390 387h1v1h-1zM390 389h1v1h-1zM390 391h1v1h-1zM390 393h1v1h-1zM390 395h1v1h-1zM390 397h1v1h-1zM390 399h1v1h-1zM390 401h1v1h-1zM390 403h1v1h-1zM390 405h1v1h-1zM390 407h1v1h-1zM390 409h1v1h-1zM390 411h1v1h-1zM390 413h1v1h-1zM390 415h1v1h-1zM390 417h1v1h-1zM390 419h1v1h-1zM390 421h1v1h-1zM390 423h1v1h-1zM390 425h1v1h-1zM390 427h1v1h-1zM390 429h1v1h-1zM390 431h1v1h-1zM390 433h1v1h-1zM390 435h1v1h-1zM390 437h1v1h-1zM390 439h1v1h-1zM390 441h1v1h-1zM390 443h1v1h-1zM390 445h1v1h-1zM429 81h1v1h-1zM429 83h1v1h-1zM429 85h1v1h-1zM429 87h1v1h-1zM429 89h1v1h-1zM429 91h1v1h-1zM429 93h1v1h-1zM429 95h1v1h-1zM429 97h1v1h-1zM429 99h1v1h-1zM429 101h1v1h-1zM429 103h1v1h-1zM429 105h1v1h-1zM429 107h1v1h-1zM429 109h1v1h-1zM429 111h1v1h-1zM429 113h1v1h-1zM429 115h1v1h-1zM429 117h1v1h-1zM429 119h1v1h-1zM429 121h1v1h-1zM429 123h1v1h-1zM429 125h1v1h-1zM429 127h1v1h-1zM429 129h1v1h-1zM429 131h1v1h-1zM429 133h1v1h-1zM429 135h1v1h-1zM429 137h1v1h-1zM429 139h1v1h-1zM429 141h1v1h-1zM429 143h1v1h-1zM429 145h1v1h-1zM429 147h1v1h-1zM429 149h1v1h-1zM429 151h1v1h-1zM429 153h1v1h-1zM429 155h1v1h-1zM429 157h1v1h-1zM429 159h1v1h-1zM429 161h1v1h-1zM429 163h1v1h-1zM429 165h1v1h-1zM429 167h1v1h-1zM429 169h1v1h-1zM429 171h1v1h-1zM429 173h1v1h-1zM429 175h1v1h-1zM429 177h1v1h-1zM429 179h1v1h-1zM429 181h1v1h-1zM429 183h1v1h-1zM429 185h1v1h-1zM429 187h1v1h-1zM429 189h1v1h-1zM429 191h1v1h-1zM429 193h1v1h-1zM429 195h1v1h-1zM429 197h1v1h-1zM429 199h1v1h-1zM429 201h1v1h-1zM429 203h1v1h-1zM429 205h1v1h-1zM429 207h1v1h-1zM429 209h1v1h-1zM429 211h1v1h-1zM429 213h1v1h-1zM429 215h1v1h-1zM429 217h1v1h-1zM429 219h1v1h-1zM429 221h1v1h-1zM429 223h1v1h-1zM429 225h1v1h-1zM429 227h1v1h-1zM429 229h1v1h-1zM429 231h1v1h-1zM429 233h1v1h-1zM429 235h1v1h-1zM429 237h1v1h-1zM429 239h1v1h-1zM429 241h1v1h-1zM429 243h1v1h-1zM429 245h1v1h-1zM429 247h1v1h-1zM429 249h1v1h-1zM429 251h1v1h-1zM429 253h1v1h-1zM429 255h1v1h-1zM429 257h1v1h-1zM429 259h1v1h-1zM429 261h1v1h-1zM429 263h1v1h-1zM429 265h1v1h-1zM429 267h1v1h-1zM429 269h1v1h-1zM429 271h1v1h-1zM429 273h1v1h-1zM429 275h1v1h-1zM429 277h1v1h-1zM429 279h1v1h-1zM429 281h1v1h-1zM429 283h1v1h-1zM429 285h1v1h-1zM429 287h1v1h-1zM429 289h1v1h-1zM429 291h1v1h-1zM429 293h1v1h-1zM429 295h1v1h-1zM429 297h1v1h-1zM429 299h1v1h-1zM429 301h1v1h-1zM429 303h1v1h-1zM429 305h1v1h-1zM429 307h1v1h-1zM429 309h1v1h-1zM429 311h1v1h-1zM429 313h1v1h-1zM429 315h1v1h-1zM429 317h1v1h-1zM429 319h1v1h-1zM429 321h1v1h-1zM429 323h1v1h-1zM429 325h1v1h-1zM429 327h1v1h-1zM429 329h1v1h-1zM429 331h1v1h-1zM429 333h1v1h-1zM429 335h1v1h-1zM429 337h1v1h-1zM429 339h1v1h-1zM429 341h1v1h-1zM429 343h1v1h-1zM429 345h1v1h-1zM429 347h1v1h-1zM429 349h1v1h-1zM429 351h1v1h-1zM429 353h1v1h-1zM429 355h1v1h-1zM429 357h1v1h-1zM429 359h1v1h-1zM429 361h1v1h-1zM429 363h1v1h-1zM429 365h1v1h-1zM429 367h1v1h-1zM429 369h1v1h-1zM429 371h1v1h-1zM429 373h1v1h-1zM429 375h1v1h-1zM429 377h1v1h-1zM429 379h1v1h-1zM429 381h1v1h-1zM429 383h1v1h-1zM429 385h1v1h-1zM429 387h1v1h-1zM429 389h1v1h-1zM429 391h1v1h-1zM429 393h1v1h-1zM429 395h1v1h-1zM429 397h1v1h-1zM429 399h1v1h-1zM429 401h1v1h-1zM429 403h1v1h-1zM429 405h1v1h-1zM429 407h1v1h-1zM429 409h1v1h-1zM429 411h1v1h-1zM429 413h1v1h-1zM429 415h1v1h-1zM429 417h1v1h-1zM429 419h1v1h-1zM429 421h1v1h-1zM429 423h1v1h-1zM429 425h1v1h-1zM429 427h1v1h-1zM429 429h1v1h-1zM429 431h1v1h-1zM429 433h1v1h-1zM429 435h1v1h-1zM429 437h1v1h-1zM429 439h1v1h-1zM429 441h1v1h-1zM429 443h1v1h-1zM429 445h1v1h-1zM45 90h1v1h-1zM47 90h1v1h-1zM49 90h1v1h-1zM51 90h1v1h-1zM53 90h1v1h-1zM55 90h1v1h-1zM57 90h1v1h-1zM59 90h1v1h-1zM61 90h1v1h-1zM63 90h1v1h-1zM65 90h1v1h-1zM67 90h1v1h-1zM69 90h1v1h-1zM71 90h1v1h-1zM73 90h1v1h-1zM75 90h1v1h-1zM77 90h1v1h-1zM79 90h1v1h-1zM81 90h1v1h-1zM83 90h1v1h-1zM85 90h1v1h-1zM87 90h1v1h-1zM89 90h1v1h-1zM91 90h1v1h-1zM93 90h1v1h-1zM95 90h1v1h-1zM97 90h1v1h-1zM99 90h1v1h-1zM101 90h1v1h-1zM103 90h1v1h-1zM105 90h1v1h-1zM107 90h1v1h-1zM109 90h1v1h-1zM111 90h1v1h-1zM113 90h1v1h-1zM115 90h1v1h-1zM117 90h1v1h-1zM119 90h1v1h-1zM121 90h1v1h-1zM123 90h1v1h-1zM125 90h1v1h-1zM127 90h1v1h-1zM129 90h1v1h-1zM131 90h1v1h-1zM133 90h1v1h-1zM135 90h1v1h-1zM137 90h1v1h-1zM139 90h1v1h-1zM141 90h1v1h-1zM143 90h1v1h-1zM145 90h1v1h-1zM147 90h1v1h-1zM149 90h1v1h-1zM151 90h1v1h-1zM153 90h1v1h-1zM155 90h1v1h-1zM157 90h1v1h-1zM159 90h1v1h-1zM161 90h1v1h-1zM163 90h1v1h-1zM165 90h1v1h-1zM167 90h1v1h-1zM169 90h1v1h-1zM171 90h1v1h-1zM173 90h1v1h-1zM175 90h1v1h-1zM177 90h1v1h-1zM179 90h1v1h-1zM181 90h1v1h-1zM183 90h1v1h-1zM185 90h1v1h-1zM187 90h1v1h-1zM189 90h1v1h-1zM191 90h1v1h-1zM193 90h1v1h-1zM195 90h1v1h-1zM197 90h1v1h-1zM199 90h1v1h-1zM201 90h1v1h-1zM203 90h1v1h-1zM205 90h1v1h-1zM207 90h1v1h-1zM209 90h1v1h-1zM211 90h1v1h-1zM213 90h1v1h-1zM215 90h1v1h-1zM217 90h1v1h-1zM219 90h1v1h-1zM221 90h1v1h-1zM223 90h1v1h-1zM225 90h1v1h-1zM227 90h1v1h-1zM229 90h1v1h-1zM231 90h1v1h-1zM233 90h1v1h-1zM235 90h1v1h-1zM237 90h1v1h-1zM239 90h1v1h-1zM241 90h1v1h-1zM243 90h1v1h-1zM245 90h1v1h-1zM247 90h1v1h-1zM249 90h1v1h-1zM251 90h1v1h-1zM253 90h1v1h-1zM255 90h1v1h-1zM257 90h1v1h-1zM259 90h1v1h-1zM261 90h1v1h-1zM263 90h1v1h-1zM265 90h1v1h-1zM267 90h1v1h-1zM269 90h1v1h-1zM271 90h1v1h-1zM273 90h1v1h-1zM275 90h1v1h-1zM277 90h1v1h-1zM279 90h1v1h-1zM281 90h1v1h-1zM283 90h1v1h-1zM285 90h1v1h-1zM287 90h1v1h-1zM289 90h1v1h-1zM291 90h1v1h-1zM293 90h1v1h-1zM295 90h1v1h-1zM297 90h1v1h-1zM299 90h1v1h-1zM301 90h1v1h-1zM303 90h1v1h-1zM305 90h1v1h-1zM307 90h1v1h-1zM309 90h1v1h-1zM311 90h1v1h-1zM313 90h1v1h-1zM315 90h1v1h-1zM317 90h1v1h-1zM319 90h1v1h-1zM321 90h1v1h-1zM323 90h1v1h-1zM325 90h1v1h-1zM327 90h1v1h-1zM329 90h1v1h-1zM331 90h1v1h-1zM333 90h1v1h-1zM335 90h1v1h-1zM337 90h1v1h-1zM339 90h1v1h-1zM341 90h1v1h-1zM343 90h1v1h-1zM345 90h1v1h-1zM347 90h1v1h-1zM349 90h1v1h-1zM351 90h1v1h-1zM353 90h1v1h-1zM355 90h1v1h-1zM357 90h1v1h-1zM359 90h1v1h-1zM361 90h1v1h-1zM363 90h1v1h-1zM365 90h1v1h-1zM367 90h1v1h-1zM369 90h1v1h-1zM371 90h1v1h-1zM373 90h1v1h-1zM375 90h1v1h-1zM377 90h1v1h-1zM379 90h1v1h-1zM381 90h1v1h-1zM383 90h1v1h-1zM385 90h1v1h-1zM387 90h1v1h-1zM389 90h1v1h-1zM391 90h1v1h-1zM393 90h1v1h-1zM395 90h1v1h-1zM397 90h1v1h-1zM399 90h1v1h-1zM401 90h1v1h-1zM403 90h1v1h-1zM405 90h1v1h-1zM407 90h1v1h-1zM409 90h1v1h-1zM411 90h1v1h-1zM413 90h1v1h-1zM415 90h1v1h-1zM417 90h1v1h-1zM419 90h1v1h-1zM421 90h1v1h-1zM423 90h1v1h-1zM425 90h1v1h-1zM427 90h1v1h-1zM429 90h1v1h-1zM431 90h1v1h-1zM433 90h1v1h-1zM435 90h1v1h-1zM437 90h1v1h-1zM45 126h1v1h-1zM47 126h1v1h-1zM49 126h1v1h-1zM51 126h1v1h-1zM53 126h1v1h-1zM55 126h1v1h-1zM57 126h1v1h-1zM59 126h1v1h-1zM61 126h1v1h-1zM63 126h1v1h-1zM65 126h1v1h-1zM67 126h1v1h-1zM69 126h1v1h-1zM71 126h1v1h-1zM73 126h1v1h-1zM75 126h1v1h-1zM77 126h1v1h-1zM79 126h1v1h-1zM81 126h1v1h-1zM83 126h1v1h-1zM85 126h1v1h-1zM87 126h1v1h-1zM89 126h1v1h-1zM91 126h1v1h-1zM93 126h1v1h-1zM95 126h1v1h-1zM97 126h1v1h-1zM99 126h1v1h-1zM101 126h1v1h-1zM103 126h1v1h-1zM105 126h1v1h-1zM107 126h1v1h-1zM109 126h1v1h-1zM111 126h1v1h-1zM113 126h1v1h-1zM115 126h1v1h-1zM117 126h1v1h-1zM119 126h1v1h-1zM121 126h1v1h-1zM123 126h1v1h-1zM125 126h1v1h-1zM127 126h1v1h-1zM129 126h1v1h-1zM131 126h1v1h-1zM133 126h1v1h-1zM135 126h1v1h-1zM137 126h1v1h-1zM139 126h1v1h-1zM141 126h1v1h-1zM143 126h1v1h-1zM145 126h1v1h-1zM147 126h1v1h-1zM149 126h1v1h-1zM151 126h1v1h-1zM153 126h1v1h-1zM155 126h1v1h-1zM157 126h1v1h-1zM159 126h1v1h-1zM161 126h1v1h-1zM163 126h1v1h-1zM165 126h1v1h-1zM167 126h1v1h-1zM169 126h1v1h-1zM171 126h1v1h-1zM173 126h1v1h-1zM175 126h1v1h-1zM177 126h1v1h-1zM179 126h1v1h-1zM181 126h1v1h-1zM183 126h1v1h-1zM185 126h1v1h-1zM187 126h1v1h-1zM189 126h1v1h-1zM191 126h1v1h-1zM193 126h1v1h-1zM195 126h1v1h-1zM197 126h1v1h-1zM199 126h1v1h-1zM201 126h1v1h-1zM203 126h1v1h-1zM205 126h1v1h-1zM207 126h1v1h-1zM209 126h1v1h-1zM211 126h1v1h-1zM213 126h1v1h-1zM215 126h1v1h-1zM217 126h1v1h-1zM219 126h1v1h-1zM221 126h1v1h-1zM223 126h1v1h-1zM225 126h1v1h-1zM227 126h1v1h-1zM229 126h1v1h-1zM231 126h1v1h-1zM233 126h1v1h-1zM235 126h1v1h-1zM237 126h1v1h-1zM239 126h1v1h-1zM241 126h1v1h-1zM243 126h1v1h-1zM245 126h1v1h-1zM247 126h1v1h-1zM249 126h1v1h-1zM251 126h1v1h-1zM253 126h1v1h-1zM255 126h1v1h-1zM257 126h1v1h-1zM259 126h1v1h-1zM261 126h1v1h-1zM263 126h1v1h-1zM265 126h1v1h-1zM267 126h1v1h-1zM269 126h1v1h-1zM271 126h1v1h-1zM273 126h1v1h-1zM275 126h1v1h-1zM277 126h1v1h-1zM279 126h1v1h-1zM281 126h1v1h-1zM283 126h1v1h-1zM285 126h1v1h-1zM287 126h1v1h-1zM289 126h1v1h-1zM291 126h1v1h-1zM293 126h1v1h-1zM295 126h1v1h-1zM297 126h1v1h-1zM299 126h1v1h-1zM301 126h1v1h-1zM303 126h1v1h-1zM305 126h1v1h-1zM307 126h1v1h-1zM309 126h1v1h-1zM311 126h1v1h-1zM313 126h1v1h-1zM315 126h1v1h-1zM317 126h1v1h-1zM319 126h1v1h-1zM321 126h1v1h-1zM323 126h1v1h-1zM325 126h1v1h-1zM327 126h1v1h-1zM329 126h1v1h-1zM331 126h1v1h-1zM333 126h1v1h-1zM335 126h1v1h-1zM337 126h1v1h-1zM339 126h1v1h-1zM341 126h1v1h-1zM343 126h1v1h-1zM345 126h1v1h-1zM347 126h1v1h-1zM349 126h1v1h-1zM351 126h1v1h-1zM353 126h1v1h-1zM355 126h1v1h-1zM357 126h1v1h-1zM359 126h1v1h-1zM361 126h1v1h-1zM363 126h1v1h-1zM365 126h1v1h-1zM367 126h1v1h-1zM369 126h1v1h-1zM371 126h1v1h-1zM373 126h1v1h-1zM375 126h1v1h-1zM377 126h1v1h-1zM379 126h1v1h-1zM381 126h1v1h-1zM383 126h1v1h-1zM385 126h1v1h-1zM387 126h1v1h-1zM389 126h1v1h-1zM391 126h1v1h-1zM393 126h1v1h-1zM395 126h1v1h-1zM397 126h1v1h-1zM399 126h1v1h-1zM401 126h1v1h-1zM403 126h1v1h-1zM405 126h1v1h-1zM407 126h1v1h-1zM409 126h1v1h-1zM411 126h1v1h-1zM413 126h1v1h-1zM415 126h1v1h-1zM417 126h1v1h-1zM419 126h1v1h-1zM421 126h1v1h-1zM423 126h1v1h-1zM425 126h1v1h-1zM427 126h1v1h-1zM429 126h1v1h-1zM431 126h1v1h-1zM433 126h1v1h-1zM435 126h1v1h-1zM437 126h1v1h-1zM45 162h1v1h-1zM47 162h1v1h-1zM49 162h1v1h-1zM51 162h1v1h-1zM53 162h1v1h-1zM55 162h1v1h-1zM57 162h1v1h-1zM59 162h1v1h-1zM61 162h1v1h-1zM63 162h1v1h-1zM65 162h1v1h-1zM67 162h1v1h-1zM69 162h1v1h-1zM71 162h1v1h-1zM73 162h1v1h-1zM75 162h1v1h-1zM77 162h1v1h-1zM79 162h1v1h-1zM81 162h1v1h-1zM83 162h1v1h-1zM85 162h1v1h-1zM87 162h1v1h-1zM89 162h1v1h-1zM91 162h1v1h-1zM93 162h1v1h-1zM95 162h1v1h-1zM97 162h1v1h-1zM99 162h1v1h-1zM101 162h1v1h-1zM103 162h1v1h-1zM105 162h1v1h-1zM107 162h1v1h-1zM109 162h1v1h-1zM111 162h1v1h-1zM113 162h1v1h-1zM115 162h1v1h-1zM117 162h1v1h-1zM119 162h1v1h-1zM121 162h1v1h-1zM123 162h1v1h-1zM125 162h1v1h-1zM127 162h1v1h-1zM129 162h1v1h-1zM131 162h1v1h-1zM133 162h1v1h-1zM135 162h1v1h-1zM137 162h1v1h-1zM139 162h1v1h-1zM141 162h1v1h-1zM143 162h1v1h-1zM145 162h1v1h-1zM147 162h1v1h-1zM149 162h1v1h-1zM151 162h1v1h-1zM153 162h1v1h-1zM155 162h1v1h-1zM157 162h1v1h-1zM159 162h1v1h-1zM161 162h1v1h-1zM163 162h1v1h-1zM165 162h1v1h-1zM167 162h1v1h-1zM169 162h1v1h-1zM171 162h1v1h-1zM173 162h1v1h-1zM175 162h1v1h-1zM177 162h1v1h-1zM179 162h1v1h-1zM181 162h1v1h-1zM183 162h1v1h-1zM185 162h1v1h-1zM187 162h1v1h-1zM189 162h1v1h-1zM191 162h1v1h-1zM193 162h1v1h-1zM195 162h1v1h-1zM197 162h1v1h-1zM199 162h1v1h-1zM201 162h1v1h-1zM203 162h1v1h-1zM205 162h1v1h-1zM207 162h1v1h-1zM209 162h1v1h-1zM211 162h1v1h-1zM213 162h1v1h-1zM215 162h1v1h-1zM217 162h1v1h-1zM219 162h1v1h-1zM221 162h1v1h-1zM223 162h1v1h-1zM225 162h1v1h-1zM227 162h1v1h-1zM229 162h1v1h-1zM231 162h1v1h-1zM233 162h1v1h-1zM235 162h1v1h-1zM237 162h1v1h-1zM239 162h1v1h-1zM241 162h1v1h-1zM243 162h1v1h-1zM245 162h1v1h-1zM247 162h1v1h-1zM249 162h1v1h-1zM251 162h1v1h-1zM253 162h1v1h-1zM255 162h1v1h-1zM257 162h1v1h-1zM259 162h1v1h-1zM261 162h1v1h-1zM263 162h1v1h-1zM265 162h1v1h-1zM267 162h1v1h-1zM269 162h1v1h-1zM271 162h1v1h-1zM273 162h1v1h-1zM275 162h1v1h-1zM277 162h1v1h-1zM279 162h1v1h-1zM281 162h1v1h-1zM283 162h1v1h-1zM285 162h1v1h-1zM287 162h1v1h-1zM289 162h1v1h-1zM291 162h1v1h-1zM293 162h1v1h-1zM295 162h1v1h-1zM297 162h1v1h-1zM299 162h1v1h-1zM301 162h1v1h-1zM303 162h1v1h-1zM305 162h1v1h-1zM307 162h1v1h-1zM309 162h1v1h-1zM311 162h1v1h-1zM313 162h1v1h-1zM315 162h1v1h-1zM317 162h1v1h-1zM319 162h1v1h-1zM321 162h1v1h-1zM323 162h1v1h-1zM325 162h1v1h-1zM327 162h1v1h-1zM329 162h1v1h-1zM331 162h1v1h-1zM333 162h1v1h-1zM335 162h1v1h-1zM337 162h1v1h-1zM339 162h1v1h-1zM341 162h1v1h-1zM343 162h1v1h-1zM345 162h1v1h-1zM347 162h1v1h-1zM349 162h1v1h-1zM351 162h1v1h-1zM353 162h1v1h-1zM355 162h1v1h-1zM357 162h1v1h-1zM359 162h1v1h-1zM361 162h1v1h-1zM363 162h1v1h-1zM365 162h1v1h-1zM367 162h1v1h-1zM369 162h1v1h-1zM371 162h1v1h-1zM373 162h1v1h-1zM375 162h1v1h-1zM377 162h1v1h-1zM379 162h1v1h-1zM381 162h1v1h-1zM383 162h1v1h-1zM385 162h1v1h-1zM387 162h1v1h-1zM389 162h1v1h-1zM391 162h1v1h-1zM393 162h1v1h-1zM395 162h1v1h-1zM397 162h1v1h-1zM399 162h1v1h-1zM401 162h1v1h-1zM403 162h1v1h-1zM405 162h1v1h-1zM407 162h1v1h-1zM409 162h1v1h-1zM411 162h1v1h-1zM413 162h1v1h-1zM415 162h1v1h-1zM417 162h1v1h-1zM419 162h1v1h-1zM421 162h1v1h-1zM423 162h1v1h-1zM425 162h1v1h-1zM427 162h1v1h-1zM429 162h1v1h-1zM431 162h1v1h-1zM433 162h1v1h-1zM435 162h1v1h-1zM437 162h1v1h-1zM45 197h1v1h-1zM47 197h1v1h-1zM49 197h1v1h-1zM51 197h1v1h-1zM53 197h1v1h-1zM55 197h1v1h-1zM57 197h1v1h-1zM59 197h1v1h-1zM61 197h1v1h-1zM63 197h1v1h-1zM65 197h1v1h-1zM67 197h1v1h-1zM69 197h1v1h-1zM71 197h1v1h-1zM73 197h1v1h-1zM75 197h1v1h-1zM77 197h1v1h-1zM79 197h1v1h-1zM81 197h1v1h-1zM83 197h1v1h-1zM85 197h1v1h-1zM87 197h1v1h-1zM89 197h1v1h-1zM91 197h1v1h-1zM93 197h1v1h-1zM95 197h1v1h-1zM97 197h1v1h-1zM99 197h1v1h-1zM101 197h1v1h-1zM103 197h1v1h-1zM105 197h1v1h-1zM107 197h1v1h-1zM109 197h1v1h-1zM111 197h1v1h-1zM113 197h1v1h-1zM115 197h1v1h-1zM117 197h1v1h-1zM119 197h1v1h-1zM121 197h1v1h-1zM123 197h1v1h-1zM125 197h1v1h-1zM127 197h1v1h-1zM129 197h1v1h-1zM131 197h1v1h-1zM133 197h1v1h-1zM135 197h1v1h-1zM137 197h1v1h-1zM139 197h1v1h-1zM141 197h1v1h-1zM143 197h1v1h-1zM145 197h1v1h-1zM147 197h1v1h-1zM149 197h1v1h-1zM151 197h1v1h-1zM153 197h1v1h-1zM155 197h1v1h-1zM157 197h1v1h-1zM159 197h1v1h-1zM161 197h1v1h-1zM163 197h1v1h-1zM165 197h1v1h-1zM167 197h1v1h-1zM169 197h1v1h-1zM171 197h1v1h-1zM173 197h1v1h-1zM175 197h1v1h-1zM177 197h1v1h-1zM179 197h1v1h-1zM181 197h1v1h-1zM183 197h1v1h-1zM185 197h1v1h-1zM187 197h1v1h-1zM189 197h1v1h-1zM191 197h1v1h-1zM193 197h1v1h-1zM195 197h1v1h-1zM197 197h1v1h-1zM199 197h1v1h-1zM201 197h1v1h-1zM203 197h1v1h-1zM205 197h1v1h-1zM207 197h1v1h-1zM209 197h1v1h-1zM211 197h1v1h-1zM213 197h1v1h-1zM215 197h1v1h-1zM217 197h1v1h-1zM219 197h1v1h-1zM221 197h1v1h-1zM223 197h1v1h-1zM225 197h1v1h-1zM227 197h1v1h-1zM229 197h1v1h-1zM231 197h1v1h-1zM233 197h1v1h-1zM235 197h1v1h-1zM237 197h1v1h-1zM239 197h1v1h-1zM241 197h1v1h-1zM243 197h1v1h-1zM245 197h1v1h-1zM247 197h1v1h-1zM249 197h1v1h-1zM251 197h1v1h-1zM253 197h1v1h-1zM255 197h1v1h-1zM257 197h1v1h-1zM259 197h1v1h-1zM261 197h1v1h-1zM263 197h1v1h-1zM265 197h1v1h-1zM267 197h1v1h-1zM269 197h1v1h-1zM271 197h1v1h-1zM273 197h1v1h-1zM275 197h1v1h-1zM277 197h1v1h-1zM279 197h1v1h-1zM281 197h1v1h-1zM283 197h1v1h-1zM285 197h1v1h-1zM287 197h1v1h-1zM289 197h1v1h-1zM291 197h1v1h-1zM293 197h1v1h-1zM295 197h1v1h-1zM297 197h1v1h-1zM299 197h1v1h-1zM301 197h1v1h-1zM303 197h1v1h-1zM305 197h1v1h-1zM307 197h1v1h-1zM309 197h1v1h-1zM311 197h1v1h-1zM313 197h1v1h-1zM315 197h1v1h-1zM317 197h1v1h-1zM319 197h1v1h-1zM321 197h1v1h-1zM323 197h1v1h-1zM325 197h1v1h-1zM327 197h1v1h-1zM329 197h1v1h-1zM331 197h1v1h-1zM333 197h1v1h-1zM335 197h1v1h-1zM337 197h1v1h-1zM339 197h1v1h-1zM341 197h1v1h-1zM343 197h1v1h-1zM345 197h1v1h-1zM347 197h1v1h-1zM349 197h1v1h-1zM351 197h1v1h-1zM353 197h1v1h-1zM355 197h1v1h-1zM357 197h1v1h-1zM359 197h1v1h-1zM361 197h1v1h-1zM363 197h1v1h-1zM365 197h1v1h-1zM367 197h1v1h-1zM369 197h1v1h-1zM371 197h1v1h-1zM373 197h1v1h-1zM375 197h1v1h-1zM377 197h1v1h-1zM379 197h1v1h-1zM381 197h1v1h-1zM383 197h1v1h-1zM385 197h1v1h-1zM387 197h1v1h-1zM389 197h1v1h-1zM391 197h1v1h-1zM393 197h1v1h-1zM395 197h1v1h-1zM397 197h1v1h-1zM399 197h1v1h-1zM401 197h1v1h-1zM403 197h1v1h-1zM405 197h1v1h-1zM407 197h1v1h-1zM409 197h1v1h-1zM411 197h1v1h-1zM413 197h1v1h-1zM415 197h1v1h-1zM417 197h1v1h-1zM419 197h1v1h-1zM421 197h1v1h-1zM423 197h1v1h-1zM425 197h1v1h-1zM427 197h1v1h-1zM429 197h1v1h-1zM431 197h1v1h-1zM433 197h1v1h-1zM435 197h1v1h-1zM437 197h1v1h-1zM45 233h1v1h-1zM47 233h1v1h-1zM49 233h1v1h-1zM51 233h1v1h-1zM53 233h1v1h-1zM55 233h1v1h-1zM57 233h1v1h-1zM59 233h1v1h-1zM61 233h1v1h-1zM63 233h1v1h-1zM65 233h1v1h-1zM67 233h1v1h-1zM69 233h1v1h-1zM71 233h1v1h-1zM73 233h1v1h-1zM75 233h1v1h-1zM77 233h1v1h-1zM79 233h1v1h-1zM81 233h1v1h-1zM83 233h1v1h-1zM85 233h1v1h-1zM87 233h1v1h-1zM89 233h1v1h-1zM91 233h1v1h-1zM93 233h1v1h-1zM95 233h1v1h-1zM97 233h1v1h-1zM99 233h1v1h-1zM101 233h1v1h-1zM103 233h1v1h-1zM105 233h1v1h-1zM107 233h1v1h-1zM109 233h1v1h-1zM111 233h1v1h-1zM113 233h1v1h-1zM115 233h1v1h-1zM117 233h1v1h-1zM119 233h1v1h-1zM121 233h1v1h-1zM123 233h1v1h-1zM125 233h1v1h-1zM127 233h1v1h-1zM129 233h1v1h-1zM131 233h1v1h-1zM133 233h1v1h-1zM135 233h1v1h-1zM137 233h1v1h-1zM139 233h1v1h-1zM141 233h1v1h-1zM143 233h1v1h-1zM145 233h1v1h-1zM147 233h1v1h-1zM149 233h1v1h-1zM151 233h1v1h-1zM153 233h1v1h-1zM155 233h1v1h-1zM157 233h1v1h-1zM159 233h1v1h-1zM161 233h1v1h-1zM163 233h1v1h-1zM165 233h1v1h-1zM167 233h1v1h-1zM169 233h1v1h-1zM171 233h1v1h-1zM173 233h1v1h-1zM175 233h1v1h-1zM177 233h1v1h-1zM179 233h1v1h-1zM181 233h1v1h-1zM183 233h1v1h-1zM185 233h1v1h-1zM187 233h1v1h-1zM189 233h1v1h-1zM191 233h1v1h-1zM193 233h1v1h-1zM195 233h1v1h-1zM197 233h1v1h-1zM199 233h1v1h-1zM201 233h1v1h-1zM203 233h1v1h-1zM205 233h1v1h-1zM207 233h1v1h-1zM209 233h1v1h-1zM211 233h1v1h-1zM213 233h1v1h-1zM215 233h1v1h-1zM217 233h1v1h-1zM219 233h1v1h-1zM221 233h1v1h-1zM223 233h1v1h-1zM225 233h1v1h-1zM227 233h1v1h-1zM229 233h1v1h-1zM231 233h1v1h-1zM233 233h1v1h-1zM235 233h1v1h-1zM237 233h1v1h-1zM239 233h1v1h-1zM241 233h1v1h-1zM243 233h1v1h-1zM245 233h1v1h-1zM247 233h1v1h-1zM249 233h1v1h-1zM251 233h1v1h-1zM253 233h1v1h-1zM255 233h1v1h-1zM257 233h1v1h-1zM259 233h1v1h-1zM261 233h1v1h-1zM263 233h1v1h-1zM265 233h1v1h-1zM267 233h1v1h-1zM269 233h1v1h-1zM271 233h1v1h-1zM273 233h1v1h-1zM275 233h1v1h-1zM277 233h1v1h-1zM279 233h1v1h-1zM281 233h1v1h-1zM283 233h1v1h-1zM285 233h1v1h-1zM287 233h1v1h-1zM289 233h1v1h-1zM291 233h1v1h-1zM293 233h1v1h-1zM295 233h1v1h-1zM297 233h1v1h-1zM299 233h1v1h-1zM301 233h1v1h-1zM303 233h1v1h-1zM305 233h1v1h-1zM307 233h1v1h-1zM309 233h1v1h-1zM311 233h1v1h-1zM313 233h1v1h-1zM315 233h1v1h-1zM317 233h1v1h-1zM319 233h1v1h-1zM321 233h1v1h-1zM323 233h1v1h-1zM325 233h1v1h-1zM327 233h1v1h-1zM329 233h1v1h-1zM331 233h1v1h-1zM333 233h1v1h-1zM335 233h1v1h-1zM337 233h1v1h-1zM339 233h1v1h-1zM341 233h1v1h-1zM343 233h1v1h-1zM345 233h1v1h-1zM347 233h1v1h-1zM349 233h1v1h-1zM351 233h1v1h-1zM353 233h1v1h-1zM355 233h1v1h-1zM357 233h1v1h-1zM359 233h1v1h-1zM361 233h1v1h-1zM363 233h1v1h-1zM365 233h1v1h-1zM367 233h1v1h-1zM369 233h1v1h-1zM371 233h1v1h-1zM373 233h1v1h-1zM375 233h1v1h-1zM377 233h1v1h-1zM379 233h1v1h-1zM381 233h1v1h-1zM383 233h1v1h-1zM385 233h1v1h-1zM387 233h1v1h-1zM389 233h1v1h-1zM391 233h1v1h-1zM393 233h1v1h-1zM395 233h1v1h-1zM397 233h1v1h-1zM399 233h1v1h-1zM401 233h1v1h-1zM403 233h1v1h-1zM405 233h1v1h-1zM407 233h1v1h-1zM409 233h1v1h-1zM411 233h1v1h-1zM413 233h1v1h-1zM415 233h1v1h-1zM417 233h1v1h-1zM419 233h1v1h-1zM421 233h1v1h-1zM423 233h1v1h-1zM425 233h1v1h-1zM427 233h1v1h-1zM429 233h1v1h-1zM431 233h1v1h-1zM433 233h1v1h-1zM435 233h1v1h-1zM437 233h1v1h-1zM45 268h1v1h-1zM47 268h1v1h-1zM49 268h1v1h-1zM51 268h1v1h-1zM53 268h1v1h-1zM55 268h1v1h-1zM57 268h1v1h-1zM59 268h1v1h-1zM61 268h1v1h-1zM63 268h1v1h-1zM65 268h1v1h-1zM67 268h1v1h-1zM69 268h1v1h-1zM71 268h1v1h-1zM73 268h1v1h-1zM75 268h1v1h-1zM77 268h1v1h-1zM79 268h1v1h-1zM81 268h1v1h-1zM83 268h1v1h-1zM85 268h1v1h-1zM87 268h1v1h-1zM89 268h1v1h-1zM91 268h1v1h-1zM93 268h1v1h-1zM95 268h1v1h-1zM97 268h1v1h-1zM99 268h1v1h-1zM101 268h1v1h-1zM103 268h1v1h-1zM105 268h1v1h-1zM107 268h1v1h-1zM109 268h1v1h-1zM111 268h1v1h-1zM113 268h1v1h-1zM115 268h1v1h-1zM117 268h1v1h-1zM119 268h1v1h-1zM121 268h1v1h-1zM123 268h1v1h-1zM125 268h1v1h-1zM127 268h1v1h-1zM129 268h1v1h-1zM131 268h1v1h-1zM133 268h1v1h-1zM135 268h1v1h-1zM137 268h1v1h-1zM139 268h1v1h-1zM141 268h1v1h-1zM143 268h1v1h-1zM145 268h1v1h-1zM147 268h1v1h-1zM149 268h1v1h-1zM151 268h1v1h-1zM153 268h1v1h-1zM155 268h1v1h-1zM157 268h1v1h-1zM159 268h1v1h-1zM161 268h1v1h-1zM163 268h1v1h-1zM165 268h1v1h-1zM167 268h1v1h-1zM169 268h1v1h-1zM171 268h1v1h-1zM173 268h1v1h-1zM175 268h1v1h-1zM177 268h1v1h-1zM179 268h1v1h-1zM181 268h1v1h-1zM183 268h1v1h-1zM185 268h1v1h-1zM187 268h1v1h-1zM189 268h1v1h-1zM191 268h1v1h-1zM193 268h1v1h-1zM195 268h1v1h-1zM197 268h1v1h-1zM199 268h1v1h-1zM201 268h1v1h-1zM203 268h1v1h-1zM205 268h1v1h-1zM207 268h1v1h-1zM209 268h1v1h-1zM211 268h1v1h-1zM213 268h1v1h-1zM215 268h1v1h-1zM217 268h1v1h-1zM219 268h1v1h-1zM221 268h1v1h-1zM223 268h1v1h-1zM225 268h1v1h-1zM227 268h1v1h-1zM229 268h1v1h-1zM231 268h1v1h-1zM233 268h1v1h-1zM235 268h1v1h-1zM237 268h1v1h-1zM239 268h1v1h-1zM241 268h1v1h-1zM243 268h1v1h-1zM245 268h1v1h-1zM247 268h1v1h-1zM249 268h1v1h-1zM251 268h1v1h-1zM253 268h1v1h-1zM255 268h1v1h-1zM257 268h1v1h-1zM259 268h1v1h-1zM261 268h1v1h-1zM263 268h1v1h-1zM265 268h1v1h-1zM267 268h1v1h-1zM269 268h1v1h-1zM271 268h1v1h-1zM273 268h1v1h-1zM275 268h1v1h-1zM277 268h1v1h-1zM279 268h1v1h-1zM281 268h1v1h-1zM283 268h1v1h-1zM285 268h1v1h-1zM287 268h1v1h-1zM289 268h1v1h-1zM291 268h1v1h-1zM293 268h1v1h-1zM295 268h1v1h-1zM297 268h1v1h-1zM299 268h1v1h-1zM301 268h1v1h-1zM303 268h1v1h-1zM305 268h1v1h-1zM307 268h1v1h-1zM309 268h1v1h-1zM311 268h1v1h-1zM313 268h1v1h-1zM315 268h1v1h-1zM317 268h1v1h-1zM319 268h1v1h-1zM321 268h1v1h-1zM323 268h1v1h-1zM325 268h1v1h-1zM327 268h1v1h-1zM329 268h1v1h-1zM331 268h1v1h-1zM333 268h1v1h-1zM335 268h1v1h-1zM337 268h1v1h-1zM339 268h1v1h-1zM341 268h1v1h-1zM343 268h1v1h-1zM345 268h1v1h-1zM347 268h1v1h-1zM349 268h1v1h-1zM351 268h1v1h-1zM353 268h1v1h-1zM355 268h1v1h-1zM357 268h1v1h-1zM359 268h1v1h-1zM361 268h1v1h-1zM363 268h1v1h-1zM365 268h1v1h-1zM367 268h1v1h-1zM369 268h1v1h-1zM371 268h1v1h-1zM373 268h1v1h-1zM375 268h1v1h-1zM377 268h1v1h-1zM379 268h1v1h-1zM381 268h1v1h-1zM383 268h1v1h-1zM385 268h1v1h-1zM387 268h1v1h-1zM389 268h1v1h-1zM391 268h1v1h-1zM393 268h1v1h-1zM395 268h1v1h-1zM397 268h1v1h-1zM399 268h1v1h-1zM401 268h1v1h-1zM403 268h1v1h-1zM405 268h1v1h-1zM407 268h1v1h-1zM409 268h1v1h-1zM411 268h1v1h-1zM413 268h1v1h-1zM415 268h1v1h-1zM417 268h1v1h-1zM419 268h1v1h-1zM421 268h1v1h-1zM423 268h1v1h-1zM425 268h1v1h-1zM427 268h1v1h-1zM429 268h1v1h-1zM431 268h1v1h-1zM433 268h1v1h-1zM435 268h1v1h-1zM437 268h1v1h-1zM45 304h1v1h-1zM47 304h1v1h-1zM49 304h1v1h-1zM51 304h1v1h-1zM53 304h1v1h-1zM55 304h1v1h-1zM57 304h1v1h-1zM59 304h1v1h-1zM61 304h1v1h-1zM63 304h1v1h-1zM65 304h1v1h-1zM67 304h1v1h-1zM69 304h1v1h-1zM71 304h1v1h-1zM73 304h1v1h-1zM75 304h1v1h-1zM77 304h1v1h-1zM79 304h1v1h-1zM81 304h1v1h-1zM83 304h1v1h-1zM85 304h1v1h-1zM87 304h1v1h-1zM89 304h1v1h-1zM91 304h1v1h-1zM93 304h1v1h-1zM95 304h1v1h-1zM97 304h1v1h-1zM99 304h1v1h-1zM101 304h1v1h-1zM103 304h1v1h-1zM105 304h1v1h-1zM107 304h1v1h-1zM109 304h1v1h-1zM111 304h1v1h-1zM113 304h1v1h-1zM115 304h1v1h-1zM117 304h1v1h-1zM119 304h1v1h-1zM121 304h1v1h-1zM123 304h1v1h-1zM125 304h1v1h-1zM127 304h1v1h-1zM129 304h1v1h-1zM131 304h1v1h-1zM133 304h1v1h-1zM135 304h1v1h-1zM137 304h1v1h-1zM139 304h1v1h-1zM141 304h1v1h-1zM143 304h1v1h-1zM145 304h1v1h-1zM147 304h1v1h-1zM149 304h1v1h-1zM151 304h1v1h-1zM153 304h1v1h-1zM155 304h1v1h-1zM157 304h1v1h-1zM159 304h1v1h-1zM161 304h1v1h-1zM163 304h1v1h-1zM165 304h1v1h-1zM167 304h1v1h-1zM169 304h1v1h-1zM171 304h1v1h-1zM173 304h1v1h-1zM175 304h1v1h-1zM177 304h1v1h-1zM179 304h1v1h-1zM181 304h1v1h-1zM183 304h1v1h-1zM185 304h1v1h-1zM187 304h1v1h-1zM189 304h1v1h-1zM191 304h1v1h-1zM193 304h1v1h-1zM195 304h1v1h-1zM197 304h1v1h-1zM199 304h1v1h-1zM201 304h1v1h-1zM203 304h1v1h-1zM205 304h1v1h-1zM207 304h1v1h-1zM209 304h1v1h-1zM211 304h1v1h-1zM213 304h1v1h-1zM215 304h1v1h-1zM217 304h1v1h-1zM219 304h1v1h-1zM221 304h1v1h-1zM223 304h1v1h-1zM225 304h1v1h-1zM227 304h1v1h-1zM229 304h1v1h-1zM231 304h1v1h-1zM233 304h1v1h-1zM235 304h1v1h-1zM237 304h1v1h-1zM239 304h1v1h-1zM241 304h1v1h-1zM243 304h1v1h-1zM245 304h1v1h-1zM247 304h1v1h-1zM249 304h1v1h-1zM251 304h1v1h-1zM253 304h1v1h-1zM255 304h1v1h-1zM257 304h1v1h-1zM259 304h1v1h-1zM261 304h1v1h-1zM263 304h1v1h-1zM265 304h1v1h-1zM267 304h1v1h-1zM269 304h1v1h-1zM271 304h1v1h-1zM273 304h1v1h-1zM275 304h1v1h-1zM277 304h1v1h-1zM279 304h1v1h-1zM281 304h1v1h-1zM283 304h1v1h-1zM285 304h1v1h-1zM287 304h1v1h-1zM289 304h1v1h-1zM291 304h1v1h-1zM293 304h1v1h-1zM295 304h1v1h-1zM297 304h1v1h-1zM299 304h1v1h-1zM301 304h1v1h-1zM303 304h1v1h-1zM305 304h1v1h-1zM307 304h1v1h-1zM309 304h1v1h-1zM311 304h1v1h-1zM313 304h1v1h-1zM315 304h1v1h-1zM317 304h1v1h-1zM319 304h1v1h-1zM321 304h1v1h-1zM323 304h1v1h-1zM325 304h1v1h-1zM327 304h1v1h-1zM329 304h1v1h-1zM331 304h1v1h-1zM333 304h1v1h-1zM335 304h1v1h-1zM337 304h1v1h-1zM339 304h1v1h-1zM341 304h1v1h-1zM343 304h1v1h-1zM345 304h1v1h-1zM347 304h1v1h-1zM349 304h1v1h-1zM351 304h1v1h-1zM353 304h1v1h-1zM355 304h1v1h-1zM357 304h1v1h-1zM359 304h1v1h-1zM361 304h1v1h-1zM363 304h1v1h-1zM365 304h1v1h-1zM367 304h1v1h-1zM369 304h1v1h-1zM371 304h1v1h-1zM373 304h1v1h-1zM375 304h1v1h-1zM377 304h1v1h-1zM379 304h1v1h-1zM381 304h1v1h-1zM383 304h1v1h-1zM385 304h1v1h-1zM387 304h1v1h-1zM389 304h1v1h-1zM391 304h1v1h-1zM393 304h1v1h-1zM395 304h1v1h-1zM397 304h1v1h-1zM399 304h1v1h-1zM401 304h1v1h-1zM403 304h1v1h-1zM405 304h1v1h-1zM407 304h1v1h-1zM409 304h1v1h-1zM411 304h1v1h-1zM413 304h1v1h-1zM415 304h1v1h-1zM417 304h1v1h-1zM419 304h1v1h-1zM421 304h1v1h-1zM423 304h1v1h-1zM425 304h1v1h-1zM427 304h1v1h-1zM429 304h1v1h-1zM431 304h1v1h-1zM433 304h1v1h-1zM435 304h1v1h-1zM437 304h1v1h-1zM45 339h1v1h-1zM47 339h1v1h-1zM49 339h1v1h-1zM51 339h1v1h-1zM53 339h1v1h-1zM55 339h1v1h-1zM57 339h1v1h-1zM59 339h1v1h-1zM61 339h1v1h-1zM63 339h1v1h-1zM65 339h1v1h-1zM67 339h1v1h-1zM69 339h1v1h-1zM71 339h1v1h-1zM73 339h1v1h-1zM75 339h1v1h-1zM77 339h1v1h-1zM79 339h1v1h-1zM81 339h1v1h-1zM83 339h1v1h-1zM85 339h1v1h-1zM87 339h1v1h-1zM89 339h1v1h-1zM91 339h1v1h-1zM93 339h1v1h-1zM95 339h1v1h-1zM97 339h1v1h-1zM99 339h1v1h-1zM101 339h1v1h-1zM103 339h1v1h-1zM105 339h1v1h-1zM107 339h1v1h-1zM109 339h1v1h-1zM111 339h1v1h-1zM113 339h1v1h-1zM115 339h1v1h-1zM117 339h1v1h-1zM119 339h1v1h-1zM121 339h1v1h-1zM123 339h1v1h-1zM125 339h1v1h-1zM127 339h1v1h-1zM129 339h1v1h-1zM131 339h1v1h-1zM133 339h1v1h-1zM135 339h1v1h-1zM137 339h1v1h-1zM139 339h1v1h-1zM141 339h1v1h-1zM143 339h1v1h-1zM145 339h1v1h-1zM147 339h1v1h-1zM149 339h1v1h-1zM151 339h1v1h-1zM153 339h1v1h-1zM155 339h1v1h-1zM157 339h1v1h-1zM159 339h1v1h-1zM161 339h1v1h-1zM163 339h1v1h-1zM165 339h1v1h-1zM167 339h1v1h-1zM169 339h1v1h-1zM171 339h1v1h-1zM173 339h1v1h-1zM175 339h1v1h-1zM177 339h1v1h-1zM179 339h1v1h-1zM181 339h1v1h-1zM183 339h1v1h-1zM185 339h1v1h-1zM187 339h1v1h-1zM189 339h1v1h-1zM191 339h1v1h-1zM193 339h1v1h-1zM195 339h1v1h-1zM197 339h1v1h-1zM199 339h1v1h-1zM201 339h1v1h-1zM203 339h1v1h-1zM205 339h1v1h-1zM207 339h1v1h-1zM209 339h1v1h-1zM211 339h1v1h-1zM213 339h1v1h-1zM215 339h1v1h-1zM217 339h1v1h-1zM219 339h1v1h-1zM221 339h1v1h-1zM223 339h1v1h-1zM225 339h1v1h-1zM227 339h1v1h-1zM229 339h1v1h-1zM231 339h1v1h-1zM233 339h1v1h-1zM235 339h1v1h-1zM237 339h1v1h-1zM239 339h1v1h-1zM241 339h1v1h-1zM243 339h1v1h-1zM245 339h1v1h-1zM247 339h1v1h-1zM249 339h1v1h-1zM251 339h1v1h-1zM253 339h1v1h-1zM255 339h1v1h-1zM257 339h1v1h-1zM259 339h1v1h-1zM261 339h1v1h-1zM263 339h1v1h-1zM265 339h1v1h-1zM267 339h1v1h-1zM269 339h1v1h-1zM271 339h1v1h-1zM273 339h1v1h-1zM275 339h1v1h-1zM277 339h1v1h-1zM279 339h1v1h-1zM281 339h1v1h-1zM283 339h1v1h-1zM285 339h1v1h-1zM287 339h1v1h-1zM289 339h1v1h-1zM291 339h1v1h-1zM293 339h1v1h-1zM295 339h1v1h-1zM297 339h1v1h-1zM299 339h1v1h-1zM301 339h1v1h-1zM303 339h1v1h-1zM305 339h1v1h-1zM307 339h1v1h-1zM309 339h1v1h-1zM311 339h1v1h-1zM313 339h1v1h-1zM315 339h1v1h-1zM317 339h1v1h-1zM319 339h1v1h-1zM321 339h1v1h-1zM323 339h1v1h-1zM325 339h1v1h-1zM327 339h1v1h-1zM329 339h1v1h-1zM331 339h1v1h-1zM333 339h1v1h-1zM335 339h1v1h-1zM337 339h1v1h-1zM339 339h1v1h-1zM341 339h1v1h-1zM343 339h1v1h-1zM345 339h1v1h-1zM347 339h1v1h-1zM349 339h1v1h-1zM351 339h1v1h-1zM353 339h1v1h-1zM355 339h1v1h-1zM357 339h1v1h-1zM359 339h1v1h-1zM361 339h1v1h-1zM363 339h1v1h-1zM365 339h1v1h-1zM367 339h1v1h-1zM369 339h1v1h-1zM371 339h1v1h-1zM373 339h1v1h-1zM375 339h1v1h-1zM377 339h1v1h-1zM379 339h1v1h-1zM381 339h1v1h-1zM383 339h1v1h-1zM385 339h1v1h-1zM387 339h1v1h-1zM389 339h1v1h-1zM391 339h1v1h-1zM393 339h1v1h-1zM395 339h1v1h-1zM397 339h1v1h-1zM399 339h1v1h-1zM401 339h1v1h-1zM403 339h1v1h-1zM405 339h1v1h-1zM407 339h1v1h-1zM409 339h1v1h-1zM411 339h1v1h-1zM413 339h1v1h-1zM415 339h1v1h-1zM417 339h1v1h-1zM419 339h1v1h-1zM421 339h1v1h-1zM423 339h1v1h-1zM425 339h1v1h-1zM427 339h1v1h-1zM429 339h1v1h-1zM431 339h1v1h-1zM433 339h1v1h-1zM435 339h1v1h-1zM437 339h1v1h-1zM45 375h1v1h-1zM47 375h1v1h-1zM49 375h1v1h-1zM51 375h1v1h-1zM53 375h1v1h-1zM55 375h1v1h-1zM57 375h1v1h-1zM59 375h1v1h-1zM61 375h1v1h-1zM63 375h1v1h-1zM65 375h1v1h-1zM67 375h1v1h-1zM69 375h1v1h-1zM71 375h1v1h-1zM73 375h1v1h-1zM75 375h1v1h-1zM77 375h1v1h-1zM79 375h1v1h-1zM81 375h1v1h-1zM83 375h1v1h-1zM85 375h1v1h-1zM87 375h1v1h-1zM89 375h1v1h-1zM91 375h1v1h-1zM93 375h1v1h-1zM95 375h1v1h-1zM97 375h1v1h-1zM99 375h1v1h-1zM101 375h1v1h-1zM103 375h1v1h-1zM105 375h1v1h-1zM107 375h1v1h-1zM109 375h1v1h-1zM111 375h1v1h-1zM113 375h1v1h-1zM115 375h1v1h-1zM117 375h1v1h-1zM119 375h1v1h-1zM121 375h1v1h-1zM123 375h1v1h-1zM125 375h1v1h-1zM127 375h1v1h-1zM129 375h1v1h-1zM131 375h1v1h-1zM133 375h1v1h-1zM135 375h1v1h-1zM137 375h1v1h-1zM139 375h1v1h-1zM141 375h1v1h-1zM143 375h1v1h-1zM145 375h1v1h-1zM147 375h1v1h-1zM149 375h1v1h-1zM151 375h1v1h-1zM153 375h1v1h-1zM155 375h1v1h-1zM157 375h1v1h-1zM159 375h1v1h-1zM161 375h1v1h-1zM163 375h1v1h-1zM165 375h1v1h-1zM167 375h1v1h-1zM169 375h1v1h-1zM171 375h1v1h-1zM173 375h1v1h-1zM175 375h1v1h-1zM177 375h1v1h-1zM179 375h1v1h-1zM181 375h1v1h-1zM183 375h1v1h-1zM185 375h1v1h-1zM187 375h1v1h-1zM189 375h1v1h-1zM191 375h1v1h-1zM193 375h1v1h-1zM195 375h1v1h-1zM197 375h1v1h-1zM199 375h1v1h-1zM201 375h1v1h-1zM203 375h1v1h-1zM205 375h1v1h-1zM207 375h1v1h-1zM209 375h1v1h-1zM211 375h1v1h-1zM213 375h1v1h-1zM215 375h1v1h-1zM217 375h1v1h-1zM219 375h1v1h-1zM221 375h1v1h-1zM223 375h1v1h-1zM225 375h1v1h-1zM227 375h1v1h-1zM229 375h1v1h-1zM231 375h1v1h-1zM233 375h1v1h-1zM235 375h1v1h-1zM237 375h1v1h-1zM239 375h1v1h-1zM241 375h1v1h-1zM243 375h1v1h-1zM245 375h1v1h-1zM247 375h1v1h-1zM249 375h1v1h-1zM251 375h1v1h-1zM253 375h1v1h-1zM255 375h1v1h-1zM257 375h1v1h-1zM259 375h1v1h-1zM261 375h1v1h-1zM263 375h1v1h-1zM265 375h1v1h-1zM267 375h1v1h-1zM269 375h1v1h-1zM271 375h1v1h-1zM273 375h1v1h-1zM275 375h1v1h-1zM277 375h1v1h-1zM279 375h1v1h-1zM281 375h1v1h-1zM283 375h1v1h-1zM285 375h1v1h-1zM287 375h1v1h-1zM289 375h1v1h-1zM291 375h1v1h-1zM293 375h1v1h-1zM295 375h1v1h-1zM297 375h1v1h-1zM299 375h1v1h-1zM301 375h1v1h-1zM303 375h1v1h-1zM305 375h1v1h-1zM307 375h1v1h-1zM309 375h1v1h-1zM311 375h1v1h-1zM313 375h1v1h-1zM315 375h1v1h-1zM317 375h1v1h-1zM319 375h1v1h-1zM321 375h1v1h-1zM323 375h1v1h-1zM325 375h1v1h-1zM327 375h1v1h-1zM329 375h1v1h-1zM331 375h1v1h-1zM333 375h1v1h-1zM335 375h1v1h-1zM337 375h1v1h-1zM339 375h1v1h-1zM341 375h1v1h-1zM343 375h1v1h-1zM345 375h1v1h-1zM347 375h1v1h-1zM349 375h1v1h-1zM351 375h1v1h-1zM353 375h1v1h-1zM355 375h1v1h-1zM357 375h1v1h-1zM359 375h1v1h-1zM361 375h1v1h-1zM363 375h1v1h-1zM365 375h1v1h-1zM367 375h1v1h-1zM369 375h1v1h-1zM371 375h1v1h-1zM373 375h1v1h-1zM375 375h1v1h-1zM377 375h1v1h-1zM379 375h1v1h-1zM381 375h1v1h-1zM383 375h1v1h-1zM385 375h1v1h-1zM387 375h1v1h-1zM389 375h1v1h-1zM391 375h1v1h-1zM393 375h1v1h-1zM395 375h1v1h-1zM397 375h1v1h-1zM399 375h1v1h-1zM401 375h1v1h-1zM403 375h1v1h-1zM405 375h1v1h-1zM407 375h1v1h-1zM409 375h1v1h-1zM411 375h1v1h-1zM413 375h1v1h-1zM415 375h1v1h-1zM417 375h1v1h-1zM419 375h1v1h-1zM421 375h1v1h-1zM423 375h1v1h-1zM425 375h1v1h-1zM427 375h1v1h-1zM429 375h1v1h-1zM431 375h1v1h-1zM433 375h1v1h-1zM435 375h1v1h-1zM437 375h1v1h-1zM45 411h1v1h-1zM47 411h1v1h-1zM49 411h1v1h-1zM51 411h1v1h-1zM53 411h1v1h-1zM55 411h1v1h-1zM57 411h1v1h-1zM59 411h1v1h-1zM61 411h1v1h-1zM63 411h1v1h-1zM65 411h1v1h-1zM67 411h1v1h-1zM69 411h1v1h-1zM71 411h1v1h-1zM73 411h1v1h-1zM75 411h1v1h-1zM77 411h1v1h-1zM79 411h1v1h-1zM81 411h1v1h-1zM83 411h1v1h-1zM85 411h1v1h-1zM87 411h1v1h-1zM89 411h1v1h-1zM91 411h1v1h-1zM93 411h1v1h-1zM95 411h1v1h-1zM97 411h1v1h-1zM99 411h1v1h-1zM101 411h1v1h-1zM103 411h1v1h-1zM105 411h1v1h-1zM107 411h1v1h-1zM109 411h1v1h-1zM111 411h1v1h-1zM113 411h1v1h-1zM115 411h1v1h-1zM117 411h1v1h-1zM119 411h1v1h-1zM121 411h1v1h-1zM123 411h1v1h-1zM125 411h1v1h-1zM127 411h1v1h-1zM129 411h1v1h-1zM131 411h1v1h-1zM133 411h1v1h-1zM135 411h1v1h-1zM137 411h1v1h-1zM139 411h1v1h-1zM141 411h1v1h-1zM143 411h1v1h-1zM145 411h1v1h-1zM147 411h1v1h-1zM149 411h1v1h-1zM151 411h1v1h-1zM153 411h1v1h-1zM155 411h1v1h-1zM157 411h1v1h-1zM159 411h1v1h-1zM161 411h1v1h-1zM163 411h1v1h-1zM165 411h1v1h-1zM167 411h1v1h-1zM169 411h1v1h-1zM171 411h1v1h-1zM173 411h1v1h-1zM175 411h1v1h-1zM177 411h1v1h-1zM179 411h1v1h-1zM181 411h1v1h-1zM183 411h1v1h-1zM185 411h1v1h-1zM187 411h1v1h-1zM189 411h1v1h-1zM191 411h1v1h-1zM193 411h1v1h-1zM195 411h1v1h-1zM197 411h1v1h-1zM199 411h1v1h-1zM201 411h1v1h-1zM203 411h1v1h-1zM205 411h1v1h-1zM207 411h1v1h-1zM209 411h1v1h-1zM211 411h1v1h-1zM213 411h1v1h-1zM215 411h1v1h-1zM217 411h1v1h-1zM219 411h1v1h-1zM221 411h1v1h-1zM223 411h1v1h-1zM225 411h1v1h-1zM227 411h1v1h-1zM229 411h1v1h-1zM231 411h1v1h-1zM233 411h1v1h-1zM235 411h1v1h-1zM237 411h1v1h-1zM239 411h1v1h-1zM241 411h1v1h-1zM243 411h1v1h-1zM245 411h1v1h-1zM247 411h1v1h-1zM249 411h1v1h-1zM251 411h1v1h-1zM253 411h1v1h-1zM255 411h1v1h-1zM257 411h1v1h-1zM259 411h1v1h-1zM261 411h1v1h-1zM263 411h1v1h-1zM265 411h1v1h-1zM267 411h1v1h-1zM269 411h1v1h-1zM271 411h1v1h-1zM273 411h1v1h-1zM275 411h1v1h-1zM277 411h1v1h-1zM279 411h1v1h-1zM281 411h1v1h-1zM283 411h1v1h-1zM285 411h1v1h-1zM287 411h1v1h-1zM289 411h1v1h-1zM291 411h1v1h-1zM293 411h1v1h-1zM295 411h1v1h-1zM297 411h1v1h-1zM299 411h1v1h-1zM301 411h1v1h-1zM303 411h1v1h-1zM305 411h1v1h-1zM307 411h1v1h-1zM309 411h1v1h-1zM311 411h1v1h-1zM313 411h1v1h-1zM315 411h1v1h-1zM317 411h1v1h-1zM319 411h1v1h-1zM321 411h1v1h-1zM323 411h1v1h-1zM325 411h1v1h-1zM327 411h1v1h-1zM329 411h1v1h-1zM331 411h1v1h-1zM333 411h1v1h-1zM335 411h1v1h-1zM337 411h1v1h-1zM339 411h1v1h-1zM341 411h1v1h-1zM343 411h1v1h-1zM345 411h1v1h-1zM347 411h1v1h-1zM349 411h1v1h-1zM351 411h1v1h-1zM353 411h1v1h-1zM355 411h1v1h-1zM357 411h1v1h-1zM359 411h1v1h-1zM361 411h1v1h-1zM363 411h1v1h-1zM365 411h1v1h-1zM367 411h1v1h-1zM369 411h1v1h-1zM371 411h1v1h-1zM373 411h1v1h-1zM375 411h1v1h-1zM377 411h1v1h-1zM379 411h1v1h-1zM381 411h1v1h-1zM383 411h1v1h-1zM385 411h1v1h-1zM387 411h1v1h-1zM389 411h1v1h-1zM391 411h1v1h-1zM393 411h1v1h-1zM395 411h1v1h-1zM397 411h1v1h-1zM399 411h1v1h-1zM401 411h1v1h-1zM403 411h1v1h-1zM405 411h1v1h-1zM407 411h1v1h-1zM409 411h1v1h-1zM411 411h1v1h-1zM413 411h1v1h-1zM415 411h1v1h-1zM417 411h1v1h-1zM419 411h1v1h-1zM421 411h1v1h-1zM423 411h1v1h-1zM425 411h1v1h-1zM427 411h1v1h-1zM429 411h1v1h-1zM431 411h1v1h-1zM433 411h1v1h-1zM435 411h1v1h-1zM437 411h1v1h-1zM45 446h1v1h-1zM47 446h1v1h-1zM49 446h1v1h-1zM51 446h1v1h-1zM53 446h1v1h-1zM55 446h1v1h-1zM57 446h1v1h-1zM59 446h1v1h-1zM61 446h1v1h-1zM63 446h1v1h-1zM65 446h1v1h-1zM67 446h1v1h-1zM69 446h1v1h-1zM71 446h1v1h-1zM73 446h1v1h-1zM75 446h1v1h-1zM77 446h1v1h-1zM79 446h1v1h-1zM81 446h1v1h-1zM83 446h1v1h-1zM85 446h1v1h-1zM87 446h1v1h-1zM89 446h1v1h-1zM91 446h1v1h-1zM93 446h1v1h-1zM95 446h1v1h-1zM97 446h1v1h-1zM99 446h1v1h-1zM101 446h1v1h-1zM103 446h1v1h-1zM105 446h1v1h-1zM107 446h1v1h-1zM109 446h1v1h-1zM111 446h1v1h-1zM113 446h1v1h-1zM115 446h1v1h-1zM117 446h1v1h-1zM119 446h1v1h-1zM121 446h1v1h-1zM123 446h1v1h-1zM125 446h1v1h-1zM127 446h1v1h-1zM129 446h1v1h-1zM131 446h1v1h-1zM133 446h1v1h-1zM135 446h1v1h-1zM137 446h1v1h-1zM139 446h1v1h-1zM141 446h1v1h-1zM143 446h1v1h-1zM145 446h1v1h-1zM147 446h1v1h-1zM149 446h1v1h-1zM151 446h1v1h-1zM153 446h1v1h-1zM155 446h1v1h-1zM157 446h1v1h-1zM159 446h1v1h-1zM161 446h1v1h-1zM163 446h1v1h-1zM165 446h1v1h-1zM167 446h1v1h-1zM169 446h1v1h-1zM171 446h1v1h-1zM173 446h1v1h-1zM175 446h1v1h-1zM177 446h1v1h-1zM179 446h1v1h-1zM181 446h1v1h-1zM183 446h1v1h-1zM185 446h1v1h-1zM187 446h1v1h-1zM189 446h1v1h-1zM191 446h1v1h-1zM193 446h1v1h-1zM195 446h1v1h-1zM197 446h1v1h-1zM199 446h1v1h-1zM201 446h1v1h-1zM203 446h1v1h-1zM205 446h1v1h-1zM207 446h1v1h-1zM209 446h1v1h-1zM211 446h1v1h-1zM213 446h1v1h-1zM215 446h1v1h-1zM217 446h1v1h-1zM219 446h1v1h-1zM221 446h1v1h-1zM223 446h1v1h-1zM225 446h1v1h-1zM227 446h1v1h-1zM229 446h1v1h-1zM231 446h1v1h-1zM233 446h1v1h-1zM235 446h1v1h-1zM237 446h1v1h-1zM239 446h1v1h-1zM241 446h1v1h-1zM243 446h1v1h-1zM245 446h1v1h-1zM247 446h1v1h-1zM249 446h1v1h-1zM251 446h1v1h-1zM253 446h1v1h-1zM255 446h1v1h-1zM257 446h1v1h-1zM259 446h1v1h-1zM261 446h1v1h-1zM263 446h1v1h-1zM265 446h1v1h-1zM267 446h1v1h-1zM269 446h1v1h-1zM271 446h1v1h-1zM273 446h1v1h-1zM275 446h1v1h-1zM277 446h1v1h-1zM279 446h1v1h-1zM281 446h1v1h-1zM283 446h1v1h-1zM285 446h1v1h-1zM287 446h1v1h-1zM289 446h1v1h-1zM291 446h1v1h-1zM293 446h1v1h-1zM295 446h1v1h-1zM297 446h1v1h-1zM299 446h1v1h-1zM301 446h1v1h-1zM303 446h1v1h-1zM305 446h1v1h-1zM307 446h1v1h-1zM309 446h1v1h-1zM311 446h1v1h-1zM313 446h1v1h-1zM315 446h1v1h-1zM317 446h1v1h-1zM319 446h1v1h-1zM321 446h1v1h-1zM323 446h1v1h-1zM325 446h1v1h-1zM327 446h1v1h-1zM329 446h1v1h-1zM331 446h1v1h-1zM333 446h1v1h-1zM335 446h1v1h-1zM337 446h1v1h-1zM339 446h1v1h-1zM341 446h1v1h-1zM343 446h1v1h-1zM345 446h1v1h-1zM347 446h1v1h-1zM349 446h1v1h-1zM351 446h1v1h-1zM353 446h1v1h-1zM355 446h1v1h-1zM357 446h1v1h-1zM359 446h1v1h-1zM361 446h1v1h-1zM363 446h1v1h-1zM365 446h1v1h-1zM367 446h1v1h-1zM369 446h1v1h-1zM371 446h1v1h-1zM373 446h1v1h-1zM375 446h1v1h-1zM377 446h1v1h-1zM379 446h1v1h-1zM381 446h1v1h-1zM383 446h1v1h-1zM385 446h1v1h-1zM387 446h1v1h-1zM389 446h1v1h-1zM391 446h1v1h-1zM393 446h1v1h-1zM395 446h1v1h-1zM397 446h1v1h-1zM399 446h1v1h-1zM401 446h1v1h-1zM403 446h1v1h-1zM405 446h1v1h-1zM407 446h1v1h-1zM409 446h1v1h-1zM411 446h1v1h-1zM413 446h1v1h-1zM415 446h1v1h-1zM417 446h1v1h-1zM419 446h1v1h-1zM421 446h1v1h-1zM423 446h1v1h-1zM425 446h1v1h-1zM427 446h1v1h-1zM429 446h1v1h-1zM431 446h1v1h-1zM433 446h1v1h-1zM435 446h1v1h-1zM437 446h1v1h-1z"/><path fill="#a0a0a0" d="M43 90h2v1h-2zM43 162h2v1h-2zM43 233h2v1h-2zM43 304h2v1h-2zM43 375h2v1h-2zM43 446h2v1h-2zM45 447h1v4h-1zM83 447h1v4h-1zM121 447h1v4h-1zM160 447h1v4h-1zM198 447h1v4h-1zM237 447h1v4h-1zM275 447h1v4h-1zM313 447h1v4h-1zM352 447h1v4h-1zM390 447h1v4h-1zM429 447h1v4h-1z"/></g>
<polyline points="45.00,208.50 50.49,208.50 55.97,210.10 61.46,207.20 66.94,206.50 72.43,206.40 77.92,207.50 83.40,209.00 88.89,206.70 94.37,208.20 99.86,207.40 105.35,205.70 110.83,207.20 116.32,207.40 121.80,206.40 127.29,208.20 132.78,206.40 138.26,209.20 143.75,207.90 149.23,207.00 154.72,207.20 160.21,208.50 165.69,209.50 171.18,207.40 176.66,207.40 182.15,206.40 187.64,208.50 193.12,208.70 198.61,207.60 204.09,206.40 209.58,206.40 215.07,207.70 220.55,207.70 226.04,205.70 231.52,207.60 237.01,205.70 242.50,205.50 247.98,207.20 253.47,207.40 258.95,207.40 264.44,207.40 269.93,207.50 275.41,208.70 280.90,207.20 286.38,207.30 291.87,208.50 297.36,208.50 302.84,209.50 308.33,208.60 313.81,208.50 319.30,208.70 324.79,207.20 330.27,207.40 335.76,207.40 341.24,207.70 346.73,206.50 352.22,205.70 357.70,208.00 363.19,208.50 368.67,205.70 374.16,206.40" fill="none" stroke="#ff3c3c" stroke-width="2.3" stroke-linejoin="round" stroke-linecap="butt"/>
<rect x="459" y="80" width="30" height="25" fill="#ff4040"/>
<g text-rendering="geometricPrecision"><text x="14.75" y="43" font-size="26" fill="#000" textLength="402.76" lengthAdjust="spacingAndGlyphs">Instantaneous Disk speed ( MB/Sec.)</text><text x="15.22" y="62" font-size="13" fill="#505050" stroke="#505050" stroke-width="0.08" textLength="160.28" lengthAdjust="spacingAndGlyphs">Latency Distribution Heat Map</text><text x="20.06" y="94" font-size="10" fill="#000" textLength="20.1" lengthAdjust="spacingAndGlyphs">3000</text><text x="19.94" y="166" font-size="10" fill="#000" textLength="20.21" lengthAdjust="spacingAndGlyphs">2400</text><text x="19.7" y="237" font-size="10" fill="#000" textLength="20.46" lengthAdjust="spacingAndGlyphs">1800</text><text x="19.7" y="308" font-size="10" fill="#000" textLength="20.46" lengthAdjust="spacingAndGlyphs">1200</text><text x="24.94" y="379" font-size="10" fill="#000" textLength="15.22" lengthAdjust="spacingAndGlyphs">600</text><text x="35.04" y="450" font-size="10" fill="#000" textLength="5.12" lengthAdjust="spacingAndGlyphs">0</text><text x="42.94" y="464" font-size="10" fill="#000" textLength="5.12" lengthAdjust="spacingAndGlyphs">0</text><text x="80.8" y="464" font-size="10" fill="#000" textLength="5.38" lengthAdjust="spacingAndGlyphs">7</text><text x="116.09" y="464" font-size="10" fill="#000" textLength="10.38" lengthAdjust="spacingAndGlyphs">14</text><text x="155.33" y="464" font-size="10" fill="#000" textLength="10.32" lengthAdjust="spacingAndGlyphs">21</text><text x="193.34" y="464" font-size="10" fill="#000" textLength="10.27" lengthAdjust="spacingAndGlyphs">28</text><text x="232.45" y="464" font-size="10" fill="#000" textLength="10.13" lengthAdjust="spacingAndGlyphs">35</text><text x="270.59" y="464" font-size="10" fill="#000" textLength="10.06" lengthAdjust="spacingAndGlyphs">42</text><text x="308.59" y="464" font-size="10" fill="#000" textLength="10.03" lengthAdjust="spacingAndGlyphs">49</text><text x="347.43" y="464" font-size="10" fill="#000" textLength="10.17" lengthAdjust="spacingAndGlyphs">56</text><text x="385.33" y="464" font-size="10" fill="#000" textLength="10.28" lengthAdjust="spacingAndGlyphs">63</text><text x="424.33" y="464" font-size="10" fill="#000" textLength="10.23" lengthAdjust="spacingAndGlyphs">70</text><text x="220.91" y="484" font-size="10.6" fill="#000" stroke="#000" stroke-width="0.08" textLength="42.43" lengthAdjust="spacingAndGlyphs">Time (Sec)</text><text x="495.87" y="90" font-size="12.2" fill="#000" stroke="#000" stroke-width="0.08" textLength="84.59" lengthAdjust="spacingAndGlyphs">CT4000P3PSSD8</text><text x="495.81" y="103" font-size="9.6" fill="#000" stroke="#000" stroke-width="0.08" textLength="170.63" lengthAdjust="spacingAndGlyphs">Thread 0; Win32 uncached; Block size: 16 KB</text><text x="459.38" y="171.5" font-size="10.6" fill="#606060" textLength="54.62" lengthAdjust="spacingAndGlyphs">Ave. speed</text><text x="458.77" y="194" font-size="18.4" fill="#000" textLength="88.4" lengthAdjust="spacingAndGlyphs">2018 MB/s</text><text x="459.38" y="223" font-size="10.6" fill="#606060" textLength="88.11" lengthAdjust="spacingAndGlyphs">Ave. Temperature</text><text x="459.04" y="244.5" font-size="18.4" fill="#000" textLength="51.12" lengthAdjust="spacingAndGlyphs">39.6 C</text><text x="459.09" y="261" font-size="11.2" fill="#000" stroke="#000" stroke-width="0.08" textLength="177.13" lengthAdjust="spacingAndGlyphs">Minimum: 35.0 C, Maximum: 42.0 C</text><text x="458.66" y="313" font-size="11.6" fill="#606060" textLength="25.49" lengthAdjust="spacingAndGlyphs">Disk:</text><text x="553.81" y="313" font-size="10.9" fill="#000" stroke="#000" stroke-width="0.08" textLength="9.06" lengthAdjust="spacingAndGlyphs">E:</text><text x="458.7" y="326" font-size="11.6" fill="#606060" textLength="72.5" lengthAdjust="spacingAndGlyphs">Physical Drive:</text><text x="553.89" y="326" font-size="10.9" fill="#000" stroke="#000" stroke-width="0.08" textLength="5.16" lengthAdjust="spacingAndGlyphs">1</text><text x="458.64" y="339" font-size="11.6" fill="#606060" textLength="80.34" lengthAdjust="spacingAndGlyphs">Model Number:</text><text x="554.09" y="339" font-size="10.9" fill="#000" stroke="#000" stroke-width="0.08" textLength="81.35" lengthAdjust="spacingAndGlyphs">CT4000P3PSSD8</text><text x="458.71" y="352" font-size="11.6" fill="#606060" textLength="48.39" lengthAdjust="spacingAndGlyphs">Disk Size:</text><text x="554.2" y="352" font-size="10.9" fill="#000" stroke="#000" stroke-width="0.08" textLength="50.36" lengthAdjust="spacingAndGlyphs">3726.0 GB</text><text x="458.71" y="365" font-size="11.6" fill="#606060" textLength="57.59" lengthAdjust="spacingAndGlyphs">Free space:</text><text x="554.19" y="365" font-size="10.9" fill="#000" stroke="#000" stroke-width="0.08" textLength="50.87" lengthAdjust="spacingAndGlyphs">3725.7 GB</text><text x="458.72" y="378" font-size="11.6" fill="#606060" textLength="59.27" lengthAdjust="spacingAndGlyphs">File System:</text><text x="553.77" y="378" font-size="10.9" fill="#000" stroke="#000" stroke-width="0.08" textLength="26.39" lengthAdjust="spacingAndGlyphs">NTFS</text><text x="459.04" y="391" font-size="11.6" fill="#606060" textLength="62.16" lengthAdjust="spacingAndGlyphs">Cluster Size:</text><text x="554.37" y="391" font-size="10.9" fill="#000" stroke="#000" stroke-width="0.08" textLength="21.45" lengthAdjust="spacingAndGlyphs">4 KB</text><text x="459.08" y="404" font-size="11.6" fill="#606060" textLength="50.26" lengthAdjust="spacingAndGlyphs">CPU Type:</text><text x="554.58" y="404" font-size="10.9" fill="#000" stroke="#000" stroke-width="0.08" textLength="136.5" lengthAdjust="spacingAndGlyphs">AMD Ryzen 5 5600X 6-Core</text><text x="574.07" y="466" font-size="9.7" fill="#000" stroke="#000" stroke-width="0.08" textLength="175.07" lengthAdjust="spacingAndGlyphs">PerformanceTest 10.2 (www.passmark.com)</text></g>
<rect x="0" y="0" width="784" height="1" fill="#000"/>
<rect x="0" y="0" width="1" height="497" fill="#000"/>
<rect x="783" y="0" width="1" height="497" fill="#000"/>
</svg></body></html>
